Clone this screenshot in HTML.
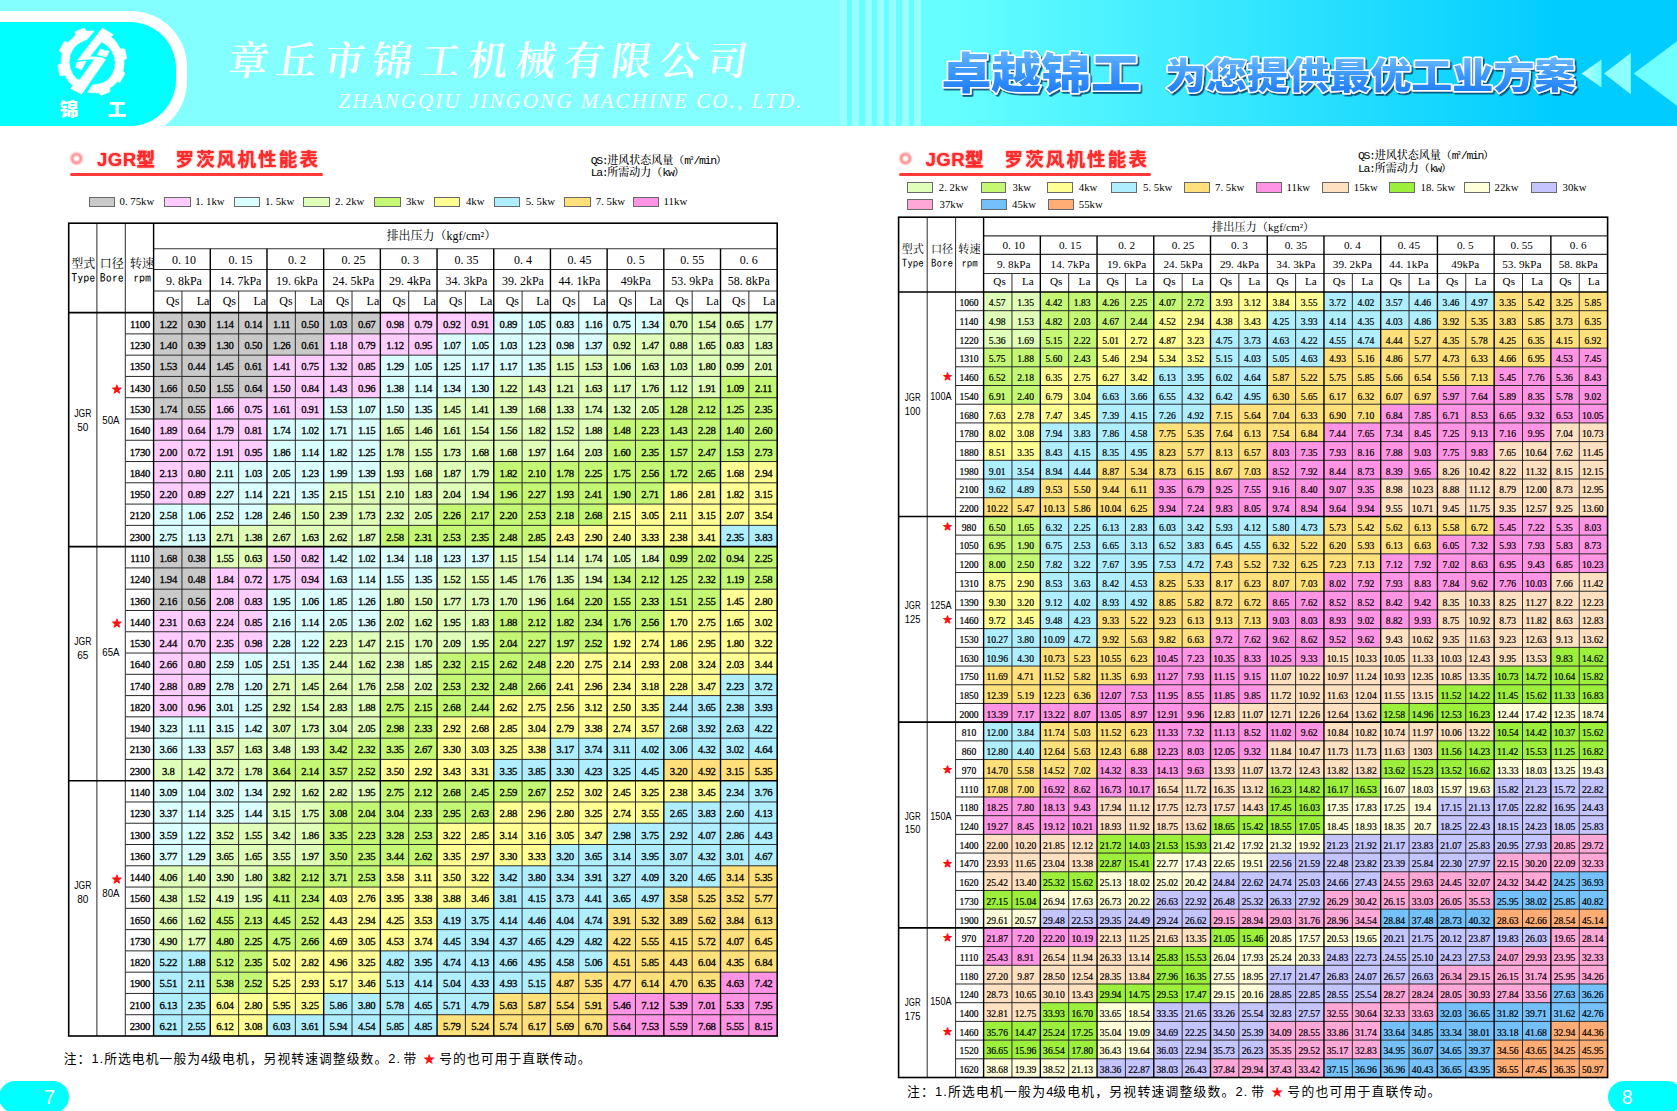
<!DOCTYPE html>
<html lang="zh-CN">
<head>
<meta charset="utf-8">
<title>JGR型 罗茨风机性能表</title>
<style>
html,body{margin:0;padding:0;background:#fff;}
body{width:1677px;height:1111px;position:relative;overflow:hidden;font-family:"Liberation Serif","Noto Serif CJK SC",serif;}
.abs{position:absolute;}
#hl{left:0;top:0;width:840px;height:125.5px;background:#84ffff;}
#hr{left:840px;top:0;width:837px;height:125.5px;background:linear-gradient(90deg,#66ffff 0%,#66ffff 13%,#00ccff 86%,#00ccff 100%);}
#stripes{left:840px;top:0;width:81px;height:125.5px;background:repeating-linear-gradient(90deg,rgba(255,255,255,.34) 0,rgba(255,255,255,.34) 6.9px,rgba(255,255,255,0) 6.9px,rgba(255,255,255,0) 12.35px);}
#bw{left:-80px;top:11px;width:267px;height:126px;background:#fff;border-radius:0 56px 56px 0;}
#hclip{left:0;top:0;width:1677px;height:125.5px;overflow:hidden;}
#bc{left:-80px;top:22px;width:256px;height:103.7px;background:#00ffff;border-radius:0 46px 46px 0;}
#jg{left:59.8px;top:95px;width:68px;font:900 18.5px/26px "Noto Sans CJK SC",sans-serif;color:#fff;white-space:nowrap;letter-spacing:0;}
#jg span{display:inline-block;width:18.5px}
#cn{left:229px;top:27.5px;font:600 40px/60px "Noto Serif CJK SC",serif;color:#fff;white-space:nowrap;letter-spacing:7.9px;transform:skewX(-8deg);transform-origin:0 50%;}
#en{left:338.6px;top:87.3px;font:italic 21px/28px "Liberation Serif",serif;color:#fff;white-space:nowrap;letter-spacing:2.1px;}
.ttl{font:700 18.5px/24px "Liberation Sans","Noto Sans CJK SC",sans-serif;color:#ff2a2a;white-space:nowrap;text-shadow:0 0 2px rgba(255,60,60,.75),0 0 1px rgba(255,60,60,.6);filter:blur(.3px);}
.ttl b{letter-spacing:.5px}
.ttl i{font-style:normal;letter-spacing:2.15px}
.ring{width:7px;height:7px;border:2.6px solid #ff5050;border-radius:50%;filter:blur(.9px);}
.ul{height:3px;background:#ff3838;filter:blur(.7px);border-radius:1.5px;}
.cap{font:500 11px/12.2px "Liberation Mono","Noto Serif CJK SC",serif;color:#000;white-space:nowrap;}
.cap i{font-style:normal;font-size:11.5px;letter-spacing:-1.35px}
.cap sup{font-size:6px;line-height:0;vertical-align:4px;}
.lb{position:absolute;border:1px solid #6a6a6a;box-sizing:border-box;}
.lt{position:absolute;font:10.8px/13px "Liberation Serif","Noto Serif CJK SC",serif;color:#000;white-space:nowrap;}
.note{font:12.8px/18px "Liberation Sans","Noto Sans CJK SC",sans-serif;color:#000;white-space:nowrap;letter-spacing:1.05px;}
.note b{font-weight:400;letter-spacing:0}
.note .s{color:#ff1010;font-family:"DejaVu Sans",sans-serif;font-size:11px;letter-spacing:0;-webkit-text-stroke:1px #ff1010;margin:0 .6px 0 2.2px}
.note u{text-decoration:none;margin-left:2.5px}
.pill{background:#00ffff;height:32px;border-radius:16px;}
.pn{font:19.5px/20px "Liberation Sans",sans-serif;color:#fff;}
svg text{white-space:pre}
.dl{font:10.7px "Liberation Serif",serif;text-anchor:middle;fill:#000;stroke:#000;stroke-width:.3px;letter-spacing:-.3px}
.dr{font:9.6px "Liberation Serif",serif;text-anchor:middle;fill:#000;stroke:#000;stroke-width:.2px}
.hs{font:12px "Liberation Serif","Noto Serif CJK SC",serif;text-anchor:middle;fill:#000}
.hq{font:11.2px "Liberation Serif","Noto Serif CJK SC",serif;text-anchor:middle;fill:#000}
.hf{font:11px "IPAGothic","DejaVu Sans Mono",monospace;text-anchor:middle;fill:#000}
.he{font:12px "IPAGothic","DejaVu Sans Mono",monospace;text-anchor:middle;fill:#000}
.ml{font:10.6px "Liberation Sans",sans-serif;text-anchor:middle;fill:#000}
.mr{font:10px "Liberation Sans",sans-serif;text-anchor:middle;fill:#000}
.sr{font:10.2px "DejaVu Sans",sans-serif;text-anchor:middle;fill:#ff1010;stroke:#ff1010;stroke-width:1px;stroke-linejoin:round}
.st{font:11px "DejaVu Sans",sans-serif;text-anchor:middle;fill:#ff1010;stroke:#ff1010;stroke-width:1.1px;stroke-linejoin:round}
</style>
</head>
<body>
<div class="abs" id="hl"></div>
<div class="abs" id="hr"></div>
<div class="abs" id="stripes"></div>
<div class="abs" id="hclip">
<div class="abs" id="bw"></div>
<div class="abs" id="bc"></div>
</div>
<svg class="abs" style="left:52px;top:22px" width="80" height="80" viewBox="0 0 1111 1111">
<g fill="#fff" stroke="#fff" stroke-width="7" stroke-linejoin="round">
<polygon points="700,85 850,175 690,275 525,483 620,485 700,495 745,520 410,1005 260,925 385,805 590,515 470,520 355,530"/>
<polygon points="585,125 475,125 450,85 320,135 325,190 270,235 225,285 170,270 100,400 140,435 128,520 125,580 80,600 110,745 180,740 225,820 290,885 260,925 385,805 340,790 290,730 255,650 238,560 250,460 290,380 340,320 400,280 490,240"/>
<polygon points="850,175 815,200 880,260 950,370 1010,375 1040,505 1000,525 1000,600 985,680 1015,715 940,845 910,825 860,875 805,915 805,970 685,1020 650,985 495,980 560,875 640,865 720,840 790,790 840,720 870,640 878,560 865,480 830,400 770,330 690,275"/>
<polygon points="675,378 795,405 755,487 625,455"/>
<polygon points="345,560 475,543 410,665 330,628"/>
</g>
</svg>
<div class="abs" id="jg"><span>锦</span><span style="margin-left:29.5px">工</span></div>
<div class="abs" id="cn">章丘市锦工机械有限公司</div>
<div class="abs" id="en">ZHANGQIU JINGONG MACHINE CO., LTD.</div>

<svg class="abs" style="left:900px;top:30px" width="777" height="90" viewBox="900 30 777 90">
<defs>
<linearGradient id="sg" x1="0" y1="0" x2="0" y2="1"><stop offset="0" stop-color="#8ad0ff"/><stop offset=".45" stop-color="#449eff"/><stop offset="1" stop-color="#1070f2"/></linearGradient>
<linearGradient id="tg" x1="0" y1="0" x2="1" y2="0"><stop offset="0" stop-color="#c4ffff"/><stop offset="1" stop-color="#74ffff"/></linearGradient>
<filter id="sh" x="-5%" y="-20%" width="110%" height="140%"><feDropShadow dx="1.6" dy="1.8" stdDeviation=".5" flood-color="#063a66" flood-opacity=".85"/></filter>
</defs>
<polygon points="1581.7,73.5 1601.5,59.5 1601.5,87.5" fill="url(#tg)"/>
<polygon points="1604,73.5 1630.8,52.9 1630.8,94.2" fill="#8cffff"/>
<polygon points="1633.7,73.5 1677,41.3 1677,105.7" fill="#70ffff"/>
<g filter="url(#sh)" font-family="'Noto Sans CJK SC',sans-serif" font-weight="900" fill="url(#sg)" stroke="#fff" stroke-width="3" paint-order="stroke fill" stroke-linejoin="round">
<text x="941.5" y="88.8" font-size="43.6" textLength="199" lengthAdjust="spacingAndGlyphs">卓越锦工</text>
<text x="1165" y="89.4" font-size="36.5" textLength="410.5" lengthAdjust="spacingAndGlyphs">为您提供最优工业方案</text>
</g>
</svg>

<div class="abs ring" style="left:70.9px;top:153px"></div>
<div class="abs ttl" style="left:97px;top:148.3px"><b>JGR型</b></div>
<div class="abs ttl" style="left:175.5px;top:148.3px"><i>罗茨风机性能表</i></div>
<div class="abs ul" style="left:70px;top:172.7px;width:253px"></div>
<div class="abs ring" style="left:899.9px;top:153px"></div>
<div class="abs ttl" style="left:925.5px;top:148.3px"><b>JGR型</b></div>
<div class="abs ttl" style="left:1004.5px;top:148.3px"><i>罗茨风机性能表</i></div>
<div class="abs ul" style="left:899px;top:172.7px;width:252px"></div>

<div class="abs cap" style="left:590.7px;top:154.6px"><i>QS:</i>进风状态风量（<i>m</i><sup>3</sup><i>/min</i>）<br><i>La:</i>所需动力（<i>kw</i>）</div>
<div class="abs cap" style="left:1358px;top:150.3px"><i>QS:</i>进风状态风量（<i>m</i><sup>3</sup><i>/min</i>）<br><i>La:</i>所需动力（<i>kw</i>）</div>

<div class="lb" style="left:89.1px;top:196.6px;width:26.4px;height:10.7px;background:#c9c9c9"></div>
<div class="lt" style="left:119.5px;top:195.1px">0. 75kw</div>
<div class="lb" style="left:164.1px;top:196.6px;width:26.6px;height:10.7px;background:#ffccff"></div>
<div class="lt" style="left:195.2px;top:195.1px">1. 1kw</div>
<div class="lb" style="left:233.5px;top:196.6px;width:26.4px;height:10.7px;background:#d9ffff"></div>
<div class="lt" style="left:264.9px;top:195.1px">1. 5kw</div>
<div class="lb" style="left:303px;top:196.6px;width:26.6px;height:10.7px;background:#e0ffb8"></div>
<div class="lt" style="left:335px;top:195.1px">2. 2kw</div>
<div class="lb" style="left:374px;top:196.6px;width:26.6px;height:10.7px;background:#c4f774"></div>
<div class="lt" style="left:405.9px;top:195.1px">3kw</div>
<div class="lb" style="left:433.9px;top:196.6px;width:26.4px;height:10.7px;background:#ffff94"></div>
<div class="lt" style="left:465.9px;top:195.1px">4kw</div>
<div class="lb" style="left:493.9px;top:196.6px;width:26.2px;height:10.7px;background:#aeeeff"></div>
<div class="lt" style="left:525.7px;top:195.1px">5. 5kw</div>
<div class="lb" style="left:564.2px;top:196.6px;width:26.4px;height:10.7px;background:#ffe07a"></div>
<div class="lt" style="left:595.7px;top:195.1px">7. 5kw</div>
<div class="lb" style="left:632.8px;top:196.6px;width:26.3px;height:10.7px;background:#ff94e4"></div>
<div class="lt" style="left:663.6px;top:195.1px">11kw</div>
<div class="lb" style="left:906.8px;top:182.2px;width:25.8px;height:10.5px;background:#e0ffb8"></div>
<div class="lt" style="left:938.8px;top:180.7px">2. 2kw</div>
<div class="lb" style="left:980.5px;top:182.2px;width:25.8px;height:10.5px;background:#c4f774"></div>
<div class="lt" style="left:1012.5px;top:180.7px">3kw</div>
<div class="lb" style="left:1047px;top:182.2px;width:26px;height:10.5px;background:#ffff94"></div>
<div class="lt" style="left:1078.8px;top:180.7px">4kw</div>
<div class="lb" style="left:1111px;top:182.2px;width:26px;height:10.5px;background:#aeeeff"></div>
<div class="lt" style="left:1143px;top:180.7px">5. 5kw</div>
<div class="lb" style="left:1184px;top:182.2px;width:26px;height:10.5px;background:#ffe07a"></div>
<div class="lt" style="left:1215px;top:180.7px">7. 5kw</div>
<div class="lb" style="left:1255.5px;top:182.2px;width:26px;height:10.5px;background:#ff94e4"></div>
<div class="lt" style="left:1286.5px;top:180.7px">11kw</div>
<div class="lb" style="left:1322px;top:182.2px;width:26.5px;height:10.5px;background:#ffe1c2"></div>
<div class="lt" style="left:1353.8px;top:180.7px">15kw</div>
<div class="lb" style="left:1389.3px;top:182.2px;width:26.2px;height:10.5px;background:#9cf03c"></div>
<div class="lt" style="left:1420.5px;top:180.7px">18. 5kw</div>
<div class="lb" style="left:1463.8px;top:182.2px;width:26.2px;height:10.5px;background:#ffffd9"></div>
<div class="lt" style="left:1494.5px;top:180.7px">22kw</div>
<div class="lb" style="left:1530.8px;top:182.2px;width:26.2px;height:10.5px;background:#c4c4ff"></div>
<div class="lt" style="left:1562.5px;top:180.7px">30kw</div>
<div class="lb" style="left:907px;top:199.2px;width:26px;height:10.5px;background:#ffa8d8"></div>
<div class="lt" style="left:939.5px;top:197.7px">37kw</div>
<div class="lb" style="left:980.5px;top:199.2px;width:26px;height:10.5px;background:#73c0fa"></div>
<div class="lt" style="left:1012px;top:197.7px">45kw</div>
<div class="lb" style="left:1047.5px;top:199.2px;width:26px;height:10.5px;background:#ffad75"></div>
<div class="lt" style="left:1078.8px;top:197.7px">55kw</div>

<svg class="abs" style="left:0;top:0" width="1677" height="1111" viewBox="0 0 1677 1111">
<rect x="153.6" y="312.6" width="226.76" height="21.58" fill="#c9c9c9"/>
<rect x="380.36" y="312.6" width="113.38" height="21.58" fill="#ffccff"/>
<rect x="493.75" y="312.6" width="170.07" height="21.58" fill="#d9ffff"/>
<rect x="663.82" y="312.6" width="113.38" height="21.58" fill="#e0ffb8"/>
<rect x="153.6" y="333.88" width="170.07" height="21.58" fill="#c9c9c9"/>
<rect x="323.67" y="333.88" width="113.38" height="21.58" fill="#ffccff"/>
<rect x="437.05" y="333.88" width="170.07" height="21.58" fill="#d9ffff"/>
<rect x="607.13" y="333.88" width="170.07" height="21.58" fill="#e0ffb8"/>
<rect x="153.6" y="355.15" width="113.38" height="21.58" fill="#c9c9c9"/>
<rect x="266.98" y="355.15" width="113.38" height="21.58" fill="#ffccff"/>
<rect x="380.36" y="355.15" width="170.07" height="21.58" fill="#d9ffff"/>
<rect x="550.44" y="355.15" width="226.76" height="21.58" fill="#e0ffb8"/>
<rect x="153.6" y="376.43" width="113.38" height="21.58" fill="#c9c9c9"/>
<rect x="266.98" y="376.43" width="113.38" height="21.58" fill="#ffccff"/>
<rect x="380.36" y="376.43" width="113.38" height="21.58" fill="#d9ffff"/>
<rect x="493.75" y="376.43" width="226.76" height="21.58" fill="#e0ffb8"/>
<rect x="720.51" y="376.43" width="56.69" height="21.58" fill="#c4f774"/>
<rect x="153.6" y="397.71" width="56.69" height="21.58" fill="#c9c9c9"/>
<rect x="210.29" y="397.71" width="113.38" height="21.58" fill="#ffccff"/>
<rect x="323.67" y="397.71" width="113.38" height="21.58" fill="#d9ffff"/>
<rect x="437.05" y="397.71" width="226.76" height="21.58" fill="#e0ffb8"/>
<rect x="663.82" y="397.71" width="113.38" height="21.58" fill="#c4f774"/>
<rect x="153.6" y="418.98" width="113.38" height="21.58" fill="#ffccff"/>
<rect x="266.98" y="418.98" width="113.38" height="21.58" fill="#d9ffff"/>
<rect x="380.36" y="418.98" width="226.76" height="21.58" fill="#e0ffb8"/>
<rect x="607.13" y="418.98" width="170.07" height="21.58" fill="#c4f774"/>
<rect x="153.6" y="440.26" width="113.38" height="21.58" fill="#ffccff"/>
<rect x="266.98" y="440.26" width="113.38" height="21.58" fill="#d9ffff"/>
<rect x="380.36" y="440.26" width="226.76" height="21.58" fill="#e0ffb8"/>
<rect x="607.13" y="440.26" width="170.07" height="21.58" fill="#c4f774"/>
<rect x="153.6" y="461.54" width="56.69" height="21.58" fill="#ffccff"/>
<rect x="210.29" y="461.54" width="170.07" height="21.58" fill="#d9ffff"/>
<rect x="380.36" y="461.54" width="113.38" height="21.58" fill="#e0ffb8"/>
<rect x="493.75" y="461.54" width="226.76" height="21.58" fill="#c4f774"/>
<rect x="720.51" y="461.54" width="56.69" height="21.58" fill="#ffff94"/>
<rect x="153.6" y="482.81" width="56.69" height="21.58" fill="#ffccff"/>
<rect x="210.29" y="482.81" width="113.38" height="21.58" fill="#d9ffff"/>
<rect x="323.67" y="482.81" width="170.07" height="21.58" fill="#e0ffb8"/>
<rect x="493.75" y="482.81" width="170.07" height="21.58" fill="#c4f774"/>
<rect x="663.82" y="482.81" width="113.38" height="21.58" fill="#ffff94"/>
<rect x="153.6" y="504.09" width="113.38" height="21.58" fill="#d9ffff"/>
<rect x="266.98" y="504.09" width="170.07" height="21.58" fill="#e0ffb8"/>
<rect x="437.05" y="504.09" width="170.07" height="21.58" fill="#c4f774"/>
<rect x="607.13" y="504.09" width="170.07" height="21.58" fill="#ffff94"/>
<rect x="153.6" y="525.36" width="56.69" height="21.58" fill="#d9ffff"/>
<rect x="210.29" y="525.36" width="170.07" height="21.58" fill="#e0ffb8"/>
<rect x="380.36" y="525.36" width="170.07" height="21.58" fill="#c4f774"/>
<rect x="550.44" y="525.36" width="170.07" height="21.58" fill="#ffff94"/>
<rect x="720.51" y="525.36" width="56.69" height="21.58" fill="#aeeeff"/>
<rect x="153.6" y="546.64" width="56.69" height="21.58" fill="#c9c9c9"/>
<rect x="210.29" y="546.64" width="56.69" height="21.58" fill="#e0ffb8"/>
<rect x="266.98" y="546.64" width="56.69" height="21.58" fill="#ffccff"/>
<rect x="323.67" y="546.64" width="170.07" height="21.58" fill="#d9ffff"/>
<rect x="493.75" y="546.64" width="170.07" height="21.58" fill="#e0ffb8"/>
<rect x="663.82" y="546.64" width="113.38" height="21.58" fill="#c4f774"/>
<rect x="153.6" y="567.92" width="56.69" height="21.58" fill="#c9c9c9"/>
<rect x="210.29" y="567.92" width="113.38" height="21.58" fill="#ffccff"/>
<rect x="323.67" y="567.92" width="113.38" height="21.58" fill="#d9ffff"/>
<rect x="437.05" y="567.92" width="170.07" height="21.58" fill="#e0ffb8"/>
<rect x="607.13" y="567.92" width="170.07" height="21.58" fill="#c4f774"/>
<rect x="153.6" y="589.19" width="56.69" height="21.58" fill="#c9c9c9"/>
<rect x="210.29" y="589.19" width="56.69" height="21.58" fill="#ffccff"/>
<rect x="266.98" y="589.19" width="113.38" height="21.58" fill="#d9ffff"/>
<rect x="380.36" y="589.19" width="170.07" height="21.58" fill="#e0ffb8"/>
<rect x="550.44" y="589.19" width="170.07" height="21.58" fill="#c4f774"/>
<rect x="720.51" y="589.19" width="56.69" height="21.58" fill="#ffff94"/>
<rect x="153.6" y="610.47" width="113.38" height="21.58" fill="#ffccff"/>
<rect x="266.98" y="610.47" width="113.38" height="21.58" fill="#d9ffff"/>
<rect x="380.36" y="610.47" width="113.38" height="21.58" fill="#e0ffb8"/>
<rect x="493.75" y="610.47" width="170.07" height="21.58" fill="#c4f774"/>
<rect x="663.82" y="610.47" width="113.38" height="21.58" fill="#ffff94"/>
<rect x="153.6" y="631.75" width="113.38" height="21.58" fill="#ffccff"/>
<rect x="266.98" y="631.75" width="56.69" height="21.58" fill="#d9ffff"/>
<rect x="323.67" y="631.75" width="170.07" height="21.58" fill="#e0ffb8"/>
<rect x="493.75" y="631.75" width="113.38" height="21.58" fill="#c4f774"/>
<rect x="607.13" y="631.75" width="170.07" height="21.58" fill="#ffff94"/>
<rect x="153.6" y="653.02" width="56.69" height="21.58" fill="#ffccff"/>
<rect x="210.29" y="653.02" width="113.38" height="21.58" fill="#d9ffff"/>
<rect x="323.67" y="653.02" width="113.38" height="21.58" fill="#e0ffb8"/>
<rect x="437.05" y="653.02" width="113.38" height="21.58" fill="#c4f774"/>
<rect x="550.44" y="653.02" width="226.76" height="21.58" fill="#ffff94"/>
<rect x="153.6" y="674.3" width="56.69" height="21.58" fill="#ffccff"/>
<rect x="210.29" y="674.3" width="56.69" height="21.58" fill="#d9ffff"/>
<rect x="266.98" y="674.3" width="170.07" height="21.58" fill="#e0ffb8"/>
<rect x="437.05" y="674.3" width="113.38" height="21.58" fill="#c4f774"/>
<rect x="550.44" y="674.3" width="170.07" height="21.58" fill="#ffff94"/>
<rect x="720.51" y="674.3" width="56.69" height="21.58" fill="#aeeeff"/>
<rect x="153.6" y="695.58" width="56.69" height="21.58" fill="#ffccff"/>
<rect x="210.29" y="695.58" width="56.69" height="21.58" fill="#d9ffff"/>
<rect x="266.98" y="695.58" width="113.38" height="21.58" fill="#e0ffb8"/>
<rect x="380.36" y="695.58" width="113.38" height="21.58" fill="#c4f774"/>
<rect x="493.75" y="695.58" width="170.07" height="21.58" fill="#ffff94"/>
<rect x="663.82" y="695.58" width="113.38" height="21.58" fill="#aeeeff"/>
<rect x="153.6" y="716.85" width="113.38" height="21.58" fill="#d9ffff"/>
<rect x="266.98" y="716.85" width="113.38" height="21.58" fill="#e0ffb8"/>
<rect x="380.36" y="716.85" width="56.69" height="21.58" fill="#c4f774"/>
<rect x="437.05" y="716.85" width="226.76" height="21.58" fill="#ffff94"/>
<rect x="663.82" y="716.85" width="113.38" height="21.58" fill="#aeeeff"/>
<rect x="153.6" y="738.13" width="56.69" height="21.58" fill="#d9ffff"/>
<rect x="210.29" y="738.13" width="113.38" height="21.58" fill="#e0ffb8"/>
<rect x="323.67" y="738.13" width="113.38" height="21.58" fill="#c4f774"/>
<rect x="437.05" y="738.13" width="113.38" height="21.58" fill="#ffff94"/>
<rect x="550.44" y="738.13" width="226.76" height="21.58" fill="#aeeeff"/>
<rect x="153.6" y="759.41" width="113.38" height="21.58" fill="#e0ffb8"/>
<rect x="266.98" y="759.41" width="113.38" height="21.58" fill="#c4f774"/>
<rect x="380.36" y="759.41" width="113.38" height="21.58" fill="#ffff94"/>
<rect x="493.75" y="759.41" width="170.07" height="21.58" fill="#aeeeff"/>
<rect x="663.82" y="759.41" width="113.38" height="21.58" fill="#ffe07a"/>
<rect x="153.6" y="780.68" width="113.38" height="21.58" fill="#d9ffff"/>
<rect x="266.98" y="780.68" width="113.38" height="21.58" fill="#e0ffb8"/>
<rect x="380.36" y="780.68" width="170.07" height="21.58" fill="#c4f774"/>
<rect x="550.44" y="780.68" width="170.07" height="21.58" fill="#ffff94"/>
<rect x="720.51" y="780.68" width="56.69" height="21.58" fill="#aeeeff"/>
<rect x="153.6" y="801.96" width="113.38" height="21.58" fill="#d9ffff"/>
<rect x="266.98" y="801.96" width="56.69" height="21.58" fill="#e0ffb8"/>
<rect x="323.67" y="801.96" width="170.07" height="21.58" fill="#c4f774"/>
<rect x="493.75" y="801.96" width="170.07" height="21.58" fill="#ffff94"/>
<rect x="663.82" y="801.96" width="113.38" height="21.58" fill="#aeeeff"/>
<rect x="153.6" y="823.24" width="56.69" height="21.58" fill="#d9ffff"/>
<rect x="210.29" y="823.24" width="113.38" height="21.58" fill="#e0ffb8"/>
<rect x="323.67" y="823.24" width="113.38" height="21.58" fill="#c4f774"/>
<rect x="437.05" y="823.24" width="170.07" height="21.58" fill="#ffff94"/>
<rect x="607.13" y="823.24" width="170.07" height="21.58" fill="#aeeeff"/>
<rect x="153.6" y="844.51" width="56.69" height="21.58" fill="#d9ffff"/>
<rect x="210.29" y="844.51" width="113.38" height="21.58" fill="#e0ffb8"/>
<rect x="323.67" y="844.51" width="113.38" height="21.58" fill="#c4f774"/>
<rect x="437.05" y="844.51" width="113.38" height="21.58" fill="#ffff94"/>
<rect x="550.44" y="844.51" width="226.76" height="21.58" fill="#aeeeff"/>
<rect x="153.6" y="865.79" width="113.38" height="21.58" fill="#e0ffb8"/>
<rect x="266.98" y="865.79" width="113.38" height="21.58" fill="#c4f774"/>
<rect x="380.36" y="865.79" width="113.38" height="21.58" fill="#ffff94"/>
<rect x="493.75" y="865.79" width="226.76" height="21.58" fill="#aeeeff"/>
<rect x="720.51" y="865.79" width="56.69" height="21.58" fill="#ffe07a"/>
<rect x="153.6" y="887.06" width="113.38" height="21.58" fill="#e0ffb8"/>
<rect x="266.98" y="887.06" width="56.69" height="21.58" fill="#c4f774"/>
<rect x="323.67" y="887.06" width="170.07" height="21.58" fill="#ffff94"/>
<rect x="493.75" y="887.06" width="170.07" height="21.58" fill="#aeeeff"/>
<rect x="663.82" y="887.06" width="113.38" height="21.58" fill="#ffe07a"/>
<rect x="153.6" y="908.34" width="56.69" height="21.58" fill="#e0ffb8"/>
<rect x="210.29" y="908.34" width="113.38" height="21.58" fill="#c4f774"/>
<rect x="323.67" y="908.34" width="113.38" height="21.58" fill="#ffff94"/>
<rect x="437.05" y="908.34" width="170.07" height="21.58" fill="#aeeeff"/>
<rect x="607.13" y="908.34" width="170.07" height="21.58" fill="#ffe07a"/>
<rect x="153.6" y="929.62" width="56.69" height="21.58" fill="#e0ffb8"/>
<rect x="210.29" y="929.62" width="113.38" height="21.58" fill="#c4f774"/>
<rect x="323.67" y="929.62" width="113.38" height="21.58" fill="#ffff94"/>
<rect x="437.05" y="929.62" width="170.07" height="21.58" fill="#aeeeff"/>
<rect x="607.13" y="929.62" width="170.07" height="21.58" fill="#ffe07a"/>
<rect x="153.6" y="950.89" width="56.69" height="21.58" fill="#aeeeff"/>
<rect x="210.29" y="950.89" width="56.69" height="21.58" fill="#c4f774"/>
<rect x="266.98" y="950.89" width="113.38" height="21.58" fill="#ffff94"/>
<rect x="380.36" y="950.89" width="226.76" height="21.58" fill="#aeeeff"/>
<rect x="607.13" y="950.89" width="170.07" height="21.58" fill="#ffe07a"/>
<rect x="153.6" y="972.17" width="56.69" height="21.58" fill="#aeeeff"/>
<rect x="210.29" y="972.17" width="56.69" height="21.58" fill="#c4f774"/>
<rect x="266.98" y="972.17" width="113.38" height="21.58" fill="#ffff94"/>
<rect x="380.36" y="972.17" width="170.07" height="21.58" fill="#aeeeff"/>
<rect x="550.44" y="972.17" width="170.07" height="21.58" fill="#ffe07a"/>
<rect x="720.51" y="972.17" width="56.69" height="21.58" fill="#ff94e4"/>
<rect x="153.6" y="993.45" width="56.69" height="21.58" fill="#aeeeff"/>
<rect x="210.29" y="993.45" width="113.38" height="21.58" fill="#ffff94"/>
<rect x="323.67" y="993.45" width="170.07" height="21.58" fill="#aeeeff"/>
<rect x="493.75" y="993.45" width="113.38" height="21.58" fill="#ffe07a"/>
<rect x="607.13" y="993.45" width="170.07" height="21.58" fill="#ff94e4"/>
<rect x="153.6" y="1014.72" width="56.69" height="21.58" fill="#aeeeff"/>
<rect x="210.29" y="1014.72" width="56.69" height="21.58" fill="#ffff94"/>
<rect x="266.98" y="1014.72" width="170.07" height="21.58" fill="#aeeeff"/>
<rect x="437.05" y="1014.72" width="170.07" height="21.58" fill="#ffe07a"/>
<rect x="607.13" y="1014.72" width="170.07" height="21.58" fill="#ff94e4"/>
<path d="M125.3 333.88H777.2M125.3 355.15H777.2M125.3 376.43H777.2M125.3 397.71H777.2M125.3 418.98H777.2M125.3 440.26H777.2M125.3 461.54H777.2M125.3 482.81H777.2M125.3 504.09H777.2M125.3 525.36H777.2M125.3 567.92H777.2M125.3 589.19H777.2M125.3 610.47H777.2M125.3 631.75H777.2M125.3 653.02H777.2M125.3 674.3H777.2M125.3 695.58H777.2M125.3 716.85H777.2M125.3 738.13H777.2M125.3 759.41H777.2M125.3 801.96H777.2M125.3 823.24H777.2M125.3 844.51H777.2M125.3 865.79H777.2M125.3 887.06H777.2M125.3 908.34H777.2M125.3 929.62H777.2M125.3 950.89H777.2M125.3 972.17H777.2M125.3 993.45H777.2M125.3 1014.72H777.2M181.95 291V1036M238.64 291V1036M295.33 291V1036M352.02 291V1036M408.71 291V1036M465.4 291V1036M522.09 291V1036M578.78 291V1036M635.47 291V1036M692.16 291V1036M748.85 291V1036M96.9 223.2V1036M125.3 223.2V1036" stroke="#2a2a2a" stroke-width="1" fill="none"/>
<path d="M153.6 248.8H777.2M153.6 269.5H777.2M153.6 291H777.2" stroke="#333" stroke-width="1.1" fill="none"/>
<path d="M210.29 248.8V1036M266.98 248.8V1036M323.67 248.8V1036M380.36 248.8V1036M437.05 248.8V1036M493.75 248.8V1036M550.44 248.8V1036M607.13 248.8V1036M663.82 248.8V1036M720.51 248.8V1036M153.6 223.2V1036" stroke="#000" stroke-width="1.4" fill="none"/>
<path d="M68.7 546.64H777.2M68.7 780.68H777.2M68.7 312.6H777.2" stroke="#000" stroke-width="1.6" fill="none"/>
<rect x="68.7" y="223.2" width="708.5" height="812.8" stroke="#000" stroke-width="1.6" fill="none"/>
<text class="hs" x="441.4" y="240">排出压力（kgf/cm²）</text>
<text class="hs" x="183.95" y="264.35">0. 10</text>
<text class="hs" x="183.95" y="285.45">9. 8kPa</text>
<text class="hs" x="172.77" y="305.4">Qs</text>
<text class="hs" x="203.12" y="305.4">La</text>
<text class="hs" x="240.44" y="264.35">0. 15</text>
<text class="hs" x="240.44" y="285.45">14. 7kPa</text>
<text class="hs" x="229.36" y="305.4">Qs</text>
<text class="hs" x="259.71" y="305.4">La</text>
<text class="hs" x="296.93" y="264.35">0. 2</text>
<text class="hs" x="296.93" y="285.45">19. 6kPa</text>
<text class="hs" x="285.95" y="305.4">Qs</text>
<text class="hs" x="316.3" y="305.4">La</text>
<text class="hs" x="353.42" y="264.35">0. 25</text>
<text class="hs" x="353.42" y="285.45">24. 5kPa</text>
<text class="hs" x="342.55" y="305.4">Qs</text>
<text class="hs" x="372.89" y="305.4">La</text>
<text class="hs" x="409.91" y="264.35">0. 3</text>
<text class="hs" x="409.91" y="285.45">29. 4kPa</text>
<text class="hs" x="399.14" y="305.4">Qs</text>
<text class="hs" x="429.48" y="305.4">La</text>
<text class="hs" x="466.4" y="264.35">0. 35</text>
<text class="hs" x="466.4" y="285.45">34. 3kPa</text>
<text class="hs" x="455.73" y="305.4">Qs</text>
<text class="hs" x="486.07" y="305.4">La</text>
<text class="hs" x="522.89" y="264.35">0. 4</text>
<text class="hs" x="522.89" y="285.45">39. 2kPa</text>
<text class="hs" x="512.32" y="305.4">Qs</text>
<text class="hs" x="542.66" y="305.4">La</text>
<text class="hs" x="579.38" y="264.35">0. 45</text>
<text class="hs" x="579.38" y="285.45">44. 1kPa</text>
<text class="hs" x="568.91" y="305.4">Qs</text>
<text class="hs" x="599.25" y="305.4">La</text>
<text class="hs" x="635.87" y="264.35">0. 5</text>
<text class="hs" x="635.87" y="285.45">49kPa</text>
<text class="hs" x="625.5" y="305.4">Qs</text>
<text class="hs" x="655.85" y="305.4">La</text>
<text class="hs" x="692.36" y="264.35">0. 55</text>
<text class="hs" x="692.36" y="285.45">53. 9kPa</text>
<text class="hs" x="682.09" y="305.4">Qs</text>
<text class="hs" x="712.44" y="305.4">La</text>
<text class="hs" x="748.85" y="264.35">0. 6</text>
<text class="hs" x="748.85" y="285.45">58. 8kPa</text>
<text class="hs" x="738.68" y="305.4">Qs</text>
<text class="hs" x="769.03" y="305.4">La</text>
<text class="hs" x="83.3" y="267.8">型式</text>
<text class="he" x="83.3" y="282.4">Type</text>
<text class="hs" x="111.7" y="267.8">口径</text>
<text class="he" x="111.7" y="282.4">Bore</text>
<text class="hs" x="142" y="267.8">转速</text>
<text class="he" x="142" y="282.4">rpm</text>
<text class="ml" x="82.8" y="416.74" textLength="17.2" lengthAdjust="spacingAndGlyphs">JGR</text>
<text class="ml" x="82.8" y="430.84" textLength="11.2" lengthAdjust="spacingAndGlyphs">50</text>
<text class="ml" x="110.9" y="423.69" textLength="17.2" lengthAdjust="spacingAndGlyphs">50A</text>
<text class="dl" x="139.9" y="327.92">1100</text>
<text class="dl" x="168.22" y="327.92">1.22</text>
<text class="dl" x="196.57" y="327.92">0.30</text>
<text class="dl" x="224.91" y="327.92">1.14</text>
<text class="dl" x="253.26" y="327.92">0.14</text>
<text class="dl" x="281.6" y="327.92">1.11</text>
<text class="dl" x="309.95" y="327.92">0.50</text>
<text class="dl" x="338.3" y="327.92">1.03</text>
<text class="dl" x="366.64" y="327.92">0.67</text>
<text class="dl" x="394.99" y="327.92">0.98</text>
<text class="dl" x="423.33" y="327.92">0.79</text>
<text class="dl" x="451.68" y="327.92">0.92</text>
<text class="dl" x="480.02" y="327.92">0.91</text>
<text class="dl" x="508.37" y="327.92">0.89</text>
<text class="dl" x="536.71" y="327.92">1.05</text>
<text class="dl" x="565.06" y="327.92">0.83</text>
<text class="dl" x="593.4" y="327.92">1.16</text>
<text class="dl" x="621.75" y="327.92">0.75</text>
<text class="dl" x="650.1" y="327.92">1.34</text>
<text class="dl" x="678.44" y="327.92">0.70</text>
<text class="dl" x="706.79" y="327.92">1.54</text>
<text class="dl" x="735.13" y="327.92">0.65</text>
<text class="dl" x="763.48" y="327.92">1.77</text>
<text class="dl" x="139.9" y="349.2">1230</text>
<text class="dl" x="168.22" y="349.2">1.40</text>
<text class="dl" x="196.57" y="349.2">0.39</text>
<text class="dl" x="224.91" y="349.2">1.30</text>
<text class="dl" x="253.26" y="349.2">0.50</text>
<text class="dl" x="281.6" y="349.2">1.26</text>
<text class="dl" x="309.95" y="349.2">0.61</text>
<text class="dl" x="338.3" y="349.2">1.18</text>
<text class="dl" x="366.64" y="349.2">0.79</text>
<text class="dl" x="394.99" y="349.2">1.12</text>
<text class="dl" x="423.33" y="349.2">0.95</text>
<text class="dl" x="451.68" y="349.2">1.07</text>
<text class="dl" x="480.02" y="349.2">1.05</text>
<text class="dl" x="508.37" y="349.2">1.03</text>
<text class="dl" x="536.71" y="349.2">1.23</text>
<text class="dl" x="565.06" y="349.2">0.98</text>
<text class="dl" x="593.4" y="349.2">1.37</text>
<text class="dl" x="621.75" y="349.2">0.92</text>
<text class="dl" x="650.1" y="349.2">1.47</text>
<text class="dl" x="678.44" y="349.2">0.88</text>
<text class="dl" x="706.79" y="349.2">1.65</text>
<text class="dl" x="735.13" y="349.2">0.83</text>
<text class="dl" x="763.48" y="349.2">1.83</text>
<text class="dl" x="139.9" y="370.48">1350</text>
<text class="dl" x="168.22" y="370.48">1.53</text>
<text class="dl" x="196.57" y="370.48">0.44</text>
<text class="dl" x="224.91" y="370.48">1.45</text>
<text class="dl" x="253.26" y="370.48">0.61</text>
<text class="dl" x="281.6" y="370.48">1.41</text>
<text class="dl" x="309.95" y="370.48">0.75</text>
<text class="dl" x="338.3" y="370.48">1.32</text>
<text class="dl" x="366.64" y="370.48">0.85</text>
<text class="dl" x="394.99" y="370.48">1.29</text>
<text class="dl" x="423.33" y="370.48">1.05</text>
<text class="dl" x="451.68" y="370.48">1.25</text>
<text class="dl" x="480.02" y="370.48">1.17</text>
<text class="dl" x="508.37" y="370.48">1.17</text>
<text class="dl" x="536.71" y="370.48">1.35</text>
<text class="dl" x="565.06" y="370.48">1.15</text>
<text class="dl" x="593.4" y="370.48">1.53</text>
<text class="dl" x="621.75" y="370.48">1.06</text>
<text class="dl" x="650.1" y="370.48">1.63</text>
<text class="dl" x="678.44" y="370.48">1.03</text>
<text class="dl" x="706.79" y="370.48">1.80</text>
<text class="dl" x="735.13" y="370.48">0.99</text>
<text class="dl" x="763.48" y="370.48">2.01</text>
<text class="dl" x="139.9" y="391.75">1430</text>
<text class="st" x="116.9" y="393.27">★</text>
<text class="dl" x="168.22" y="391.75">1.66</text>
<text class="dl" x="196.57" y="391.75">0.50</text>
<text class="dl" x="224.91" y="391.75">1.55</text>
<text class="dl" x="253.26" y="391.75">0.64</text>
<text class="dl" x="281.6" y="391.75">1.50</text>
<text class="dl" x="309.95" y="391.75">0.84</text>
<text class="dl" x="338.3" y="391.75">1.43</text>
<text class="dl" x="366.64" y="391.75">0.96</text>
<text class="dl" x="394.99" y="391.75">1.38</text>
<text class="dl" x="423.33" y="391.75">1.14</text>
<text class="dl" x="451.68" y="391.75">1.34</text>
<text class="dl" x="480.02" y="391.75">1.30</text>
<text class="dl" x="508.37" y="391.75">1.22</text>
<text class="dl" x="536.71" y="391.75">1.43</text>
<text class="dl" x="565.06" y="391.75">1.21</text>
<text class="dl" x="593.4" y="391.75">1.63</text>
<text class="dl" x="621.75" y="391.75">1.17</text>
<text class="dl" x="650.1" y="391.75">1.76</text>
<text class="dl" x="678.44" y="391.75">1.12</text>
<text class="dl" x="706.79" y="391.75">1.91</text>
<text class="dl" x="735.13" y="391.75">1.09</text>
<text class="dl" x="763.48" y="391.75">2.11</text>
<text class="dl" x="139.9" y="413.03">1530</text>
<text class="dl" x="168.22" y="413.03">1.74</text>
<text class="dl" x="196.57" y="413.03">0.55</text>
<text class="dl" x="224.91" y="413.03">1.66</text>
<text class="dl" x="253.26" y="413.03">0.75</text>
<text class="dl" x="281.6" y="413.03">1.61</text>
<text class="dl" x="309.95" y="413.03">0.91</text>
<text class="dl" x="338.3" y="413.03">1.53</text>
<text class="dl" x="366.64" y="413.03">1.07</text>
<text class="dl" x="394.99" y="413.03">1.50</text>
<text class="dl" x="423.33" y="413.03">1.35</text>
<text class="dl" x="451.68" y="413.03">1.45</text>
<text class="dl" x="480.02" y="413.03">1.41</text>
<text class="dl" x="508.37" y="413.03">1.39</text>
<text class="dl" x="536.71" y="413.03">1.68</text>
<text class="dl" x="565.06" y="413.03">1.33</text>
<text class="dl" x="593.4" y="413.03">1.74</text>
<text class="dl" x="621.75" y="413.03">1.32</text>
<text class="dl" x="650.1" y="413.03">2.05</text>
<text class="dl" x="678.44" y="413.03">1.28</text>
<text class="dl" x="706.79" y="413.03">2.12</text>
<text class="dl" x="735.13" y="413.03">1.25</text>
<text class="dl" x="763.48" y="413.03">2.35</text>
<text class="dl" x="139.9" y="434.31">1640</text>
<text class="dl" x="168.22" y="434.31">1.89</text>
<text class="dl" x="196.57" y="434.31">0.64</text>
<text class="dl" x="224.91" y="434.31">1.79</text>
<text class="dl" x="253.26" y="434.31">0.81</text>
<text class="dl" x="281.6" y="434.31">1.74</text>
<text class="dl" x="309.95" y="434.31">1.02</text>
<text class="dl" x="338.3" y="434.31">1.71</text>
<text class="dl" x="366.64" y="434.31">1.15</text>
<text class="dl" x="394.99" y="434.31">1.65</text>
<text class="dl" x="423.33" y="434.31">1.46</text>
<text class="dl" x="451.68" y="434.31">1.61</text>
<text class="dl" x="480.02" y="434.31">1.54</text>
<text class="dl" x="508.37" y="434.31">1.56</text>
<text class="dl" x="536.71" y="434.31">1.82</text>
<text class="dl" x="565.06" y="434.31">1.52</text>
<text class="dl" x="593.4" y="434.31">1.88</text>
<text class="dl" x="621.75" y="434.31">1.48</text>
<text class="dl" x="650.1" y="434.31">2.23</text>
<text class="dl" x="678.44" y="434.31">1.43</text>
<text class="dl" x="706.79" y="434.31">2.28</text>
<text class="dl" x="735.13" y="434.31">1.40</text>
<text class="dl" x="763.48" y="434.31">2.60</text>
<text class="dl" x="139.9" y="455.58">1730</text>
<text class="dl" x="168.22" y="455.58">2.00</text>
<text class="dl" x="196.57" y="455.58">0.72</text>
<text class="dl" x="224.91" y="455.58">1.91</text>
<text class="dl" x="253.26" y="455.58">0.95</text>
<text class="dl" x="281.6" y="455.58">1.86</text>
<text class="dl" x="309.95" y="455.58">1.14</text>
<text class="dl" x="338.3" y="455.58">1.82</text>
<text class="dl" x="366.64" y="455.58">1.25</text>
<text class="dl" x="394.99" y="455.58">1.78</text>
<text class="dl" x="423.33" y="455.58">1.55</text>
<text class="dl" x="451.68" y="455.58">1.73</text>
<text class="dl" x="480.02" y="455.58">1.68</text>
<text class="dl" x="508.37" y="455.58">1.68</text>
<text class="dl" x="536.71" y="455.58">1.97</text>
<text class="dl" x="565.06" y="455.58">1.64</text>
<text class="dl" x="593.4" y="455.58">2.03</text>
<text class="dl" x="621.75" y="455.58">1.60</text>
<text class="dl" x="650.1" y="455.58">2.35</text>
<text class="dl" x="678.44" y="455.58">1.57</text>
<text class="dl" x="706.79" y="455.58">2.47</text>
<text class="dl" x="735.13" y="455.58">1.53</text>
<text class="dl" x="763.48" y="455.58">2.73</text>
<text class="dl" x="139.9" y="476.86">1840</text>
<text class="dl" x="168.22" y="476.86">2.13</text>
<text class="dl" x="196.57" y="476.86">0.80</text>
<text class="dl" x="224.91" y="476.86">2.11</text>
<text class="dl" x="253.26" y="476.86">1.03</text>
<text class="dl" x="281.6" y="476.86">2.05</text>
<text class="dl" x="309.95" y="476.86">1.23</text>
<text class="dl" x="338.3" y="476.86">1.99</text>
<text class="dl" x="366.64" y="476.86">1.39</text>
<text class="dl" x="394.99" y="476.86">1.93</text>
<text class="dl" x="423.33" y="476.86">1.68</text>
<text class="dl" x="451.68" y="476.86">1.87</text>
<text class="dl" x="480.02" y="476.86">1.79</text>
<text class="dl" x="508.37" y="476.86">1.82</text>
<text class="dl" x="536.71" y="476.86">2.10</text>
<text class="dl" x="565.06" y="476.86">1.78</text>
<text class="dl" x="593.4" y="476.86">2.25</text>
<text class="dl" x="621.75" y="476.86">1.75</text>
<text class="dl" x="650.1" y="476.86">2.56</text>
<text class="dl" x="678.44" y="476.86">1.72</text>
<text class="dl" x="706.79" y="476.86">2.65</text>
<text class="dl" x="735.13" y="476.86">1.68</text>
<text class="dl" x="763.48" y="476.86">2.94</text>
<text class="dl" x="139.9" y="498.13">1950</text>
<text class="dl" x="168.22" y="498.13">2.20</text>
<text class="dl" x="196.57" y="498.13">0.89</text>
<text class="dl" x="224.91" y="498.13">2.27</text>
<text class="dl" x="253.26" y="498.13">1.14</text>
<text class="dl" x="281.6" y="498.13">2.21</text>
<text class="dl" x="309.95" y="498.13">1.35</text>
<text class="dl" x="338.3" y="498.13">2.15</text>
<text class="dl" x="366.64" y="498.13">1.51</text>
<text class="dl" x="394.99" y="498.13">2.10</text>
<text class="dl" x="423.33" y="498.13">1.83</text>
<text class="dl" x="451.68" y="498.13">2.04</text>
<text class="dl" x="480.02" y="498.13">1.94</text>
<text class="dl" x="508.37" y="498.13">1.96</text>
<text class="dl" x="536.71" y="498.13">2.27</text>
<text class="dl" x="565.06" y="498.13">1.93</text>
<text class="dl" x="593.4" y="498.13">2.41</text>
<text class="dl" x="621.75" y="498.13">1.90</text>
<text class="dl" x="650.1" y="498.13">2.71</text>
<text class="dl" x="678.44" y="498.13">1.86</text>
<text class="dl" x="706.79" y="498.13">2.81</text>
<text class="dl" x="735.13" y="498.13">1.82</text>
<text class="dl" x="763.48" y="498.13">3.15</text>
<text class="dl" x="139.9" y="519.41">2120</text>
<text class="dl" x="168.22" y="519.41">2.58</text>
<text class="dl" x="196.57" y="519.41">1.06</text>
<text class="dl" x="224.91" y="519.41">2.52</text>
<text class="dl" x="253.26" y="519.41">1.28</text>
<text class="dl" x="281.6" y="519.41">2.46</text>
<text class="dl" x="309.95" y="519.41">1.50</text>
<text class="dl" x="338.3" y="519.41">2.39</text>
<text class="dl" x="366.64" y="519.41">1.73</text>
<text class="dl" x="394.99" y="519.41">2.32</text>
<text class="dl" x="423.33" y="519.41">2.05</text>
<text class="dl" x="451.68" y="519.41">2.26</text>
<text class="dl" x="480.02" y="519.41">2.17</text>
<text class="dl" x="508.37" y="519.41">2.20</text>
<text class="dl" x="536.71" y="519.41">2.53</text>
<text class="dl" x="565.06" y="519.41">2.18</text>
<text class="dl" x="593.4" y="519.41">2.68</text>
<text class="dl" x="621.75" y="519.41">2.15</text>
<text class="dl" x="650.1" y="519.41">3.05</text>
<text class="dl" x="678.44" y="519.41">2.11</text>
<text class="dl" x="706.79" y="519.41">3.15</text>
<text class="dl" x="735.13" y="519.41">2.07</text>
<text class="dl" x="763.48" y="519.41">3.54</text>
<text class="dl" x="139.9" y="540.69">2300</text>
<text class="dl" x="168.22" y="540.69">2.75</text>
<text class="dl" x="196.57" y="540.69">1.13</text>
<text class="dl" x="224.91" y="540.69">2.71</text>
<text class="dl" x="253.26" y="540.69">1.38</text>
<text class="dl" x="281.6" y="540.69">2.67</text>
<text class="dl" x="309.95" y="540.69">1.63</text>
<text class="dl" x="338.3" y="540.69">2.62</text>
<text class="dl" x="366.64" y="540.69">1.87</text>
<text class="dl" x="394.99" y="540.69">2.58</text>
<text class="dl" x="423.33" y="540.69">2.31</text>
<text class="dl" x="451.68" y="540.69">2.53</text>
<text class="dl" x="480.02" y="540.69">2.35</text>
<text class="dl" x="508.37" y="540.69">2.48</text>
<text class="dl" x="536.71" y="540.69">2.85</text>
<text class="dl" x="565.06" y="540.69">2.43</text>
<text class="dl" x="593.4" y="540.69">2.90</text>
<text class="dl" x="621.75" y="540.69">2.40</text>
<text class="dl" x="650.1" y="540.69">3.33</text>
<text class="dl" x="678.44" y="540.69">2.38</text>
<text class="dl" x="706.79" y="540.69">3.41</text>
<text class="dl" x="735.13" y="540.69">2.35</text>
<text class="dl" x="763.48" y="540.69">3.83</text>
<text class="ml" x="82.8" y="645.04" textLength="17.2" lengthAdjust="spacingAndGlyphs">JGR</text>
<text class="ml" x="82.8" y="659.14" textLength="11.2" lengthAdjust="spacingAndGlyphs">65</text>
<text class="ml" x="110.9" y="655.59" textLength="17.2" lengthAdjust="spacingAndGlyphs">65A</text>
<text class="dl" x="139.9" y="561.96">1110</text>
<text class="dl" x="168.22" y="561.96">1.68</text>
<text class="dl" x="196.57" y="561.96">0.38</text>
<text class="dl" x="224.91" y="561.96">1.55</text>
<text class="dl" x="253.26" y="561.96">0.63</text>
<text class="dl" x="281.6" y="561.96">1.50</text>
<text class="dl" x="309.95" y="561.96">0.82</text>
<text class="dl" x="338.3" y="561.96">1.42</text>
<text class="dl" x="366.64" y="561.96">1.02</text>
<text class="dl" x="394.99" y="561.96">1.34</text>
<text class="dl" x="423.33" y="561.96">1.18</text>
<text class="dl" x="451.68" y="561.96">1.23</text>
<text class="dl" x="480.02" y="561.96">1.37</text>
<text class="dl" x="508.37" y="561.96">1.15</text>
<text class="dl" x="536.71" y="561.96">1.54</text>
<text class="dl" x="565.06" y="561.96">1.14</text>
<text class="dl" x="593.4" y="561.96">1.74</text>
<text class="dl" x="621.75" y="561.96">1.05</text>
<text class="dl" x="650.1" y="561.96">1.84</text>
<text class="dl" x="678.44" y="561.96">0.99</text>
<text class="dl" x="706.79" y="561.96">2.02</text>
<text class="dl" x="735.13" y="561.96">0.94</text>
<text class="dl" x="763.48" y="561.96">2.25</text>
<text class="dl" x="139.9" y="583.24">1240</text>
<text class="dl" x="168.22" y="583.24">1.94</text>
<text class="dl" x="196.57" y="583.24">0.48</text>
<text class="dl" x="224.91" y="583.24">1.84</text>
<text class="dl" x="253.26" y="583.24">0.72</text>
<text class="dl" x="281.6" y="583.24">1.75</text>
<text class="dl" x="309.95" y="583.24">0.94</text>
<text class="dl" x="338.3" y="583.24">1.63</text>
<text class="dl" x="366.64" y="583.24">1.14</text>
<text class="dl" x="394.99" y="583.24">1.55</text>
<text class="dl" x="423.33" y="583.24">1.35</text>
<text class="dl" x="451.68" y="583.24">1.52</text>
<text class="dl" x="480.02" y="583.24">1.55</text>
<text class="dl" x="508.37" y="583.24">1.45</text>
<text class="dl" x="536.71" y="583.24">1.76</text>
<text class="dl" x="565.06" y="583.24">1.35</text>
<text class="dl" x="593.4" y="583.24">1.94</text>
<text class="dl" x="621.75" y="583.24">1.34</text>
<text class="dl" x="650.1" y="583.24">2.12</text>
<text class="dl" x="678.44" y="583.24">1.25</text>
<text class="dl" x="706.79" y="583.24">2.32</text>
<text class="dl" x="735.13" y="583.24">1.19</text>
<text class="dl" x="763.48" y="583.24">2.58</text>
<text class="dl" x="139.9" y="604.52">1360</text>
<text class="dl" x="168.22" y="604.52">2.16</text>
<text class="dl" x="196.57" y="604.52">0.56</text>
<text class="dl" x="224.91" y="604.52">2.08</text>
<text class="dl" x="253.26" y="604.52">0.83</text>
<text class="dl" x="281.6" y="604.52">1.95</text>
<text class="dl" x="309.95" y="604.52">1.06</text>
<text class="dl" x="338.3" y="604.52">1.85</text>
<text class="dl" x="366.64" y="604.52">1.26</text>
<text class="dl" x="394.99" y="604.52">1.80</text>
<text class="dl" x="423.33" y="604.52">1.50</text>
<text class="dl" x="451.68" y="604.52">1.77</text>
<text class="dl" x="480.02" y="604.52">1.73</text>
<text class="dl" x="508.37" y="604.52">1.70</text>
<text class="dl" x="536.71" y="604.52">1.96</text>
<text class="dl" x="565.06" y="604.52">1.64</text>
<text class="dl" x="593.4" y="604.52">2.20</text>
<text class="dl" x="621.75" y="604.52">1.55</text>
<text class="dl" x="650.1" y="604.52">2.33</text>
<text class="dl" x="678.44" y="604.52">1.51</text>
<text class="dl" x="706.79" y="604.52">2.55</text>
<text class="dl" x="735.13" y="604.52">1.45</text>
<text class="dl" x="763.48" y="604.52">2.80</text>
<text class="dl" x="139.9" y="625.79">1440</text>
<text class="st" x="116.9" y="627.31">★</text>
<text class="dl" x="168.22" y="625.79">2.31</text>
<text class="dl" x="196.57" y="625.79">0.63</text>
<text class="dl" x="224.91" y="625.79">2.24</text>
<text class="dl" x="253.26" y="625.79">0.85</text>
<text class="dl" x="281.6" y="625.79">2.16</text>
<text class="dl" x="309.95" y="625.79">1.14</text>
<text class="dl" x="338.3" y="625.79">2.05</text>
<text class="dl" x="366.64" y="625.79">1.36</text>
<text class="dl" x="394.99" y="625.79">2.02</text>
<text class="dl" x="423.33" y="625.79">1.62</text>
<text class="dl" x="451.68" y="625.79">1.95</text>
<text class="dl" x="480.02" y="625.79">1.83</text>
<text class="dl" x="508.37" y="625.79">1.88</text>
<text class="dl" x="536.71" y="625.79">2.12</text>
<text class="dl" x="565.06" y="625.79">1.82</text>
<text class="dl" x="593.4" y="625.79">2.34</text>
<text class="dl" x="621.75" y="625.79">1.76</text>
<text class="dl" x="650.1" y="625.79">2.56</text>
<text class="dl" x="678.44" y="625.79">1.70</text>
<text class="dl" x="706.79" y="625.79">2.75</text>
<text class="dl" x="735.13" y="625.79">1.65</text>
<text class="dl" x="763.48" y="625.79">3.02</text>
<text class="dl" x="139.9" y="647.07">1530</text>
<text class="dl" x="168.22" y="647.07">2.44</text>
<text class="dl" x="196.57" y="647.07">0.70</text>
<text class="dl" x="224.91" y="647.07">2.35</text>
<text class="dl" x="253.26" y="647.07">0.98</text>
<text class="dl" x="281.6" y="647.07">2.28</text>
<text class="dl" x="309.95" y="647.07">1.22</text>
<text class="dl" x="338.3" y="647.07">2.23</text>
<text class="dl" x="366.64" y="647.07">1.47</text>
<text class="dl" x="394.99" y="647.07">2.15</text>
<text class="dl" x="423.33" y="647.07">1.70</text>
<text class="dl" x="451.68" y="647.07">2.09</text>
<text class="dl" x="480.02" y="647.07">1.95</text>
<text class="dl" x="508.37" y="647.07">2.04</text>
<text class="dl" x="536.71" y="647.07">2.27</text>
<text class="dl" x="565.06" y="647.07">1.97</text>
<text class="dl" x="593.4" y="647.07">2.52</text>
<text class="dl" x="621.75" y="647.07">1.92</text>
<text class="dl" x="650.1" y="647.07">2.74</text>
<text class="dl" x="678.44" y="647.07">1.86</text>
<text class="dl" x="706.79" y="647.07">2.95</text>
<text class="dl" x="735.13" y="647.07">1.80</text>
<text class="dl" x="763.48" y="647.07">3.22</text>
<text class="dl" x="139.9" y="668.35">1640</text>
<text class="dl" x="168.22" y="668.35">2.66</text>
<text class="dl" x="196.57" y="668.35">0.80</text>
<text class="dl" x="224.91" y="668.35">2.59</text>
<text class="dl" x="253.26" y="668.35">1.05</text>
<text class="dl" x="281.6" y="668.35">2.51</text>
<text class="dl" x="309.95" y="668.35">1.35</text>
<text class="dl" x="338.3" y="668.35">2.44</text>
<text class="dl" x="366.64" y="668.35">1.62</text>
<text class="dl" x="394.99" y="668.35">2.38</text>
<text class="dl" x="423.33" y="668.35">1.85</text>
<text class="dl" x="451.68" y="668.35">2.32</text>
<text class="dl" x="480.02" y="668.35">2.15</text>
<text class="dl" x="508.37" y="668.35">2.62</text>
<text class="dl" x="536.71" y="668.35">2.48</text>
<text class="dl" x="565.06" y="668.35">2.20</text>
<text class="dl" x="593.4" y="668.35">2.75</text>
<text class="dl" x="621.75" y="668.35">2.14</text>
<text class="dl" x="650.1" y="668.35">2.93</text>
<text class="dl" x="678.44" y="668.35">2.08</text>
<text class="dl" x="706.79" y="668.35">3.24</text>
<text class="dl" x="735.13" y="668.35">2.03</text>
<text class="dl" x="763.48" y="668.35">3.44</text>
<text class="dl" x="139.9" y="689.62">1740</text>
<text class="dl" x="168.22" y="689.62">2.88</text>
<text class="dl" x="196.57" y="689.62">0.89</text>
<text class="dl" x="224.91" y="689.62">2.78</text>
<text class="dl" x="253.26" y="689.62">1.20</text>
<text class="dl" x="281.6" y="689.62">2.71</text>
<text class="dl" x="309.95" y="689.62">1.45</text>
<text class="dl" x="338.3" y="689.62">2.64</text>
<text class="dl" x="366.64" y="689.62">1.76</text>
<text class="dl" x="394.99" y="689.62">2.58</text>
<text class="dl" x="423.33" y="689.62">2.02</text>
<text class="dl" x="451.68" y="689.62">2.53</text>
<text class="dl" x="480.02" y="689.62">2.32</text>
<text class="dl" x="508.37" y="689.62">2.48</text>
<text class="dl" x="536.71" y="689.62">2.66</text>
<text class="dl" x="565.06" y="689.62">2.41</text>
<text class="dl" x="593.4" y="689.62">2.96</text>
<text class="dl" x="621.75" y="689.62">2.34</text>
<text class="dl" x="650.1" y="689.62">3.18</text>
<text class="dl" x="678.44" y="689.62">2.28</text>
<text class="dl" x="706.79" y="689.62">3.47</text>
<text class="dl" x="735.13" y="689.62">2.23</text>
<text class="dl" x="763.48" y="689.62">3.72</text>
<text class="dl" x="139.9" y="710.9">1820</text>
<text class="dl" x="168.22" y="710.9">3.00</text>
<text class="dl" x="196.57" y="710.9">0.96</text>
<text class="dl" x="224.91" y="710.9">3.01</text>
<text class="dl" x="253.26" y="710.9">1.25</text>
<text class="dl" x="281.6" y="710.9">2.92</text>
<text class="dl" x="309.95" y="710.9">1.54</text>
<text class="dl" x="338.3" y="710.9">2.83</text>
<text class="dl" x="366.64" y="710.9">1.88</text>
<text class="dl" x="394.99" y="710.9">2.75</text>
<text class="dl" x="423.33" y="710.9">2.15</text>
<text class="dl" x="451.68" y="710.9">2.68</text>
<text class="dl" x="480.02" y="710.9">2.44</text>
<text class="dl" x="508.37" y="710.9">2.62</text>
<text class="dl" x="536.71" y="710.9">2.75</text>
<text class="dl" x="565.06" y="710.9">2.56</text>
<text class="dl" x="593.4" y="710.9">3.12</text>
<text class="dl" x="621.75" y="710.9">2.50</text>
<text class="dl" x="650.1" y="710.9">3.35</text>
<text class="dl" x="678.44" y="710.9">2.44</text>
<text class="dl" x="706.79" y="710.9">3.65</text>
<text class="dl" x="735.13" y="710.9">2.38</text>
<text class="dl" x="763.48" y="710.9">3.93</text>
<text class="dl" x="139.9" y="732.18">1940</text>
<text class="dl" x="168.22" y="732.18">3.23</text>
<text class="dl" x="196.57" y="732.18">1.11</text>
<text class="dl" x="224.91" y="732.18">3.15</text>
<text class="dl" x="253.26" y="732.18">1.42</text>
<text class="dl" x="281.6" y="732.18">3.07</text>
<text class="dl" x="309.95" y="732.18">1.73</text>
<text class="dl" x="338.3" y="732.18">3.04</text>
<text class="dl" x="366.64" y="732.18">2.05</text>
<text class="dl" x="394.99" y="732.18">2.98</text>
<text class="dl" x="423.33" y="732.18">2.33</text>
<text class="dl" x="451.68" y="732.18">2.92</text>
<text class="dl" x="480.02" y="732.18">2.68</text>
<text class="dl" x="508.37" y="732.18">2.85</text>
<text class="dl" x="536.71" y="732.18">3.04</text>
<text class="dl" x="565.06" y="732.18">2.79</text>
<text class="dl" x="593.4" y="732.18">3.38</text>
<text class="dl" x="621.75" y="732.18">2.74</text>
<text class="dl" x="650.1" y="732.18">3.57</text>
<text class="dl" x="678.44" y="732.18">2.68</text>
<text class="dl" x="706.79" y="732.18">3.92</text>
<text class="dl" x="735.13" y="732.18">2.63</text>
<text class="dl" x="763.48" y="732.18">4.22</text>
<text class="dl" x="139.9" y="753.45">2130</text>
<text class="dl" x="168.22" y="753.45">3.66</text>
<text class="dl" x="196.57" y="753.45">1.33</text>
<text class="dl" x="224.91" y="753.45">3.57</text>
<text class="dl" x="253.26" y="753.45">1.63</text>
<text class="dl" x="281.6" y="753.45">3.48</text>
<text class="dl" x="309.95" y="753.45">1.93</text>
<text class="dl" x="338.3" y="753.45">3.42</text>
<text class="dl" x="366.64" y="753.45">2.32</text>
<text class="dl" x="394.99" y="753.45">3.35</text>
<text class="dl" x="423.33" y="753.45">2.67</text>
<text class="dl" x="451.68" y="753.45">3.30</text>
<text class="dl" x="480.02" y="753.45">3.03</text>
<text class="dl" x="508.37" y="753.45">3.25</text>
<text class="dl" x="536.71" y="753.45">3.38</text>
<text class="dl" x="565.06" y="753.45">3.17</text>
<text class="dl" x="593.4" y="753.45">3.74</text>
<text class="dl" x="621.75" y="753.45">3.11</text>
<text class="dl" x="650.1" y="753.45">4.02</text>
<text class="dl" x="678.44" y="753.45">3.06</text>
<text class="dl" x="706.79" y="753.45">4.32</text>
<text class="dl" x="735.13" y="753.45">3.02</text>
<text class="dl" x="763.48" y="753.45">4.64</text>
<text class="dl" x="139.9" y="774.73">2300</text>
<text class="dl" x="168.22" y="774.73">3.8</text>
<text class="dl" x="196.57" y="774.73">1.42</text>
<text class="dl" x="224.91" y="774.73">3.72</text>
<text class="dl" x="253.26" y="774.73">1.78</text>
<text class="dl" x="281.6" y="774.73">3.64</text>
<text class="dl" x="309.95" y="774.73">2.14</text>
<text class="dl" x="338.3" y="774.73">3.57</text>
<text class="dl" x="366.64" y="774.73">2.52</text>
<text class="dl" x="394.99" y="774.73">3.50</text>
<text class="dl" x="423.33" y="774.73">2.92</text>
<text class="dl" x="451.68" y="774.73">3.43</text>
<text class="dl" x="480.02" y="774.73">3.31</text>
<text class="dl" x="508.37" y="774.73">3.35</text>
<text class="dl" x="536.71" y="774.73">3.85</text>
<text class="dl" x="565.06" y="774.73">3.30</text>
<text class="dl" x="593.4" y="774.73">4.23</text>
<text class="dl" x="621.75" y="774.73">3.25</text>
<text class="dl" x="650.1" y="774.73">4.45</text>
<text class="dl" x="678.44" y="774.73">3.20</text>
<text class="dl" x="706.79" y="774.73">4.92</text>
<text class="dl" x="735.13" y="774.73">3.15</text>
<text class="dl" x="763.48" y="774.73">5.35</text>
<text class="ml" x="82.8" y="888.54" textLength="17.2" lengthAdjust="spacingAndGlyphs">JGR</text>
<text class="ml" x="82.8" y="902.64" textLength="11.2" lengthAdjust="spacingAndGlyphs">80</text>
<text class="ml" x="110.9" y="896.79" textLength="17.2" lengthAdjust="spacingAndGlyphs">80A</text>
<text class="dl" x="139.9" y="796.01">1140</text>
<text class="dl" x="168.22" y="796.01">3.09</text>
<text class="dl" x="196.57" y="796.01">1.04</text>
<text class="dl" x="224.91" y="796.01">3.02</text>
<text class="dl" x="253.26" y="796.01">1.34</text>
<text class="dl" x="281.6" y="796.01">2.92</text>
<text class="dl" x="309.95" y="796.01">1.62</text>
<text class="dl" x="338.3" y="796.01">2.82</text>
<text class="dl" x="366.64" y="796.01">1.95</text>
<text class="dl" x="394.99" y="796.01">2.75</text>
<text class="dl" x="423.33" y="796.01">2.12</text>
<text class="dl" x="451.68" y="796.01">2.68</text>
<text class="dl" x="480.02" y="796.01">2.45</text>
<text class="dl" x="508.37" y="796.01">2.59</text>
<text class="dl" x="536.71" y="796.01">2.67</text>
<text class="dl" x="565.06" y="796.01">2.52</text>
<text class="dl" x="593.4" y="796.01">3.02</text>
<text class="dl" x="621.75" y="796.01">2.45</text>
<text class="dl" x="650.1" y="796.01">3.25</text>
<text class="dl" x="678.44" y="796.01">2.38</text>
<text class="dl" x="706.79" y="796.01">3.45</text>
<text class="dl" x="735.13" y="796.01">2.34</text>
<text class="dl" x="763.48" y="796.01">3.76</text>
<text class="dl" x="139.9" y="817.28">1230</text>
<text class="dl" x="168.22" y="817.28">3.37</text>
<text class="dl" x="196.57" y="817.28">1.14</text>
<text class="dl" x="224.91" y="817.28">3.25</text>
<text class="dl" x="253.26" y="817.28">1.44</text>
<text class="dl" x="281.6" y="817.28">3.15</text>
<text class="dl" x="309.95" y="817.28">1.75</text>
<text class="dl" x="338.3" y="817.28">3.08</text>
<text class="dl" x="366.64" y="817.28">2.04</text>
<text class="dl" x="394.99" y="817.28">3.04</text>
<text class="dl" x="423.33" y="817.28">2.33</text>
<text class="dl" x="451.68" y="817.28">2.95</text>
<text class="dl" x="480.02" y="817.28">2.63</text>
<text class="dl" x="508.37" y="817.28">2.88</text>
<text class="dl" x="536.71" y="817.28">2.96</text>
<text class="dl" x="565.06" y="817.28">2.80</text>
<text class="dl" x="593.4" y="817.28">3.25</text>
<text class="dl" x="621.75" y="817.28">2.74</text>
<text class="dl" x="650.1" y="817.28">3.55</text>
<text class="dl" x="678.44" y="817.28">2.65</text>
<text class="dl" x="706.79" y="817.28">3.83</text>
<text class="dl" x="735.13" y="817.28">2.60</text>
<text class="dl" x="763.48" y="817.28">4.13</text>
<text class="dl" x="139.9" y="838.56">1300</text>
<text class="dl" x="168.22" y="838.56">3.59</text>
<text class="dl" x="196.57" y="838.56">1.22</text>
<text class="dl" x="224.91" y="838.56">3.52</text>
<text class="dl" x="253.26" y="838.56">1.55</text>
<text class="dl" x="281.6" y="838.56">3.42</text>
<text class="dl" x="309.95" y="838.56">1.86</text>
<text class="dl" x="338.3" y="838.56">3.35</text>
<text class="dl" x="366.64" y="838.56">2.23</text>
<text class="dl" x="394.99" y="838.56">3.28</text>
<text class="dl" x="423.33" y="838.56">2.53</text>
<text class="dl" x="451.68" y="838.56">3.22</text>
<text class="dl" x="480.02" y="838.56">2.85</text>
<text class="dl" x="508.37" y="838.56">3.14</text>
<text class="dl" x="536.71" y="838.56">3.16</text>
<text class="dl" x="565.06" y="838.56">3.05</text>
<text class="dl" x="593.4" y="838.56">3.47</text>
<text class="dl" x="621.75" y="838.56">2.98</text>
<text class="dl" x="650.1" y="838.56">3.75</text>
<text class="dl" x="678.44" y="838.56">2.92</text>
<text class="dl" x="706.79" y="838.56">4.07</text>
<text class="dl" x="735.13" y="838.56">2.86</text>
<text class="dl" x="763.48" y="838.56">4.43</text>
<text class="dl" x="139.9" y="859.83">1360</text>
<text class="dl" x="168.22" y="859.83">3.77</text>
<text class="dl" x="196.57" y="859.83">1.29</text>
<text class="dl" x="224.91" y="859.83">3.65</text>
<text class="dl" x="253.26" y="859.83">1.65</text>
<text class="dl" x="281.6" y="859.83">3.55</text>
<text class="dl" x="309.95" y="859.83">1.97</text>
<text class="dl" x="338.3" y="859.83">3.50</text>
<text class="dl" x="366.64" y="859.83">2.35</text>
<text class="dl" x="394.99" y="859.83">3.44</text>
<text class="dl" x="423.33" y="859.83">2.62</text>
<text class="dl" x="451.68" y="859.83">3.35</text>
<text class="dl" x="480.02" y="859.83">2.97</text>
<text class="dl" x="508.37" y="859.83">3.30</text>
<text class="dl" x="536.71" y="859.83">3.33</text>
<text class="dl" x="565.06" y="859.83">3.20</text>
<text class="dl" x="593.4" y="859.83">3.65</text>
<text class="dl" x="621.75" y="859.83">3.14</text>
<text class="dl" x="650.1" y="859.83">3.95</text>
<text class="dl" x="678.44" y="859.83">3.07</text>
<text class="dl" x="706.79" y="859.83">4.32</text>
<text class="dl" x="735.13" y="859.83">3.01</text>
<text class="dl" x="763.48" y="859.83">4.67</text>
<text class="dl" x="139.9" y="881.11">1440</text>
<text class="st" x="116.9" y="882.63">★</text>
<text class="dl" x="168.22" y="881.11">4.06</text>
<text class="dl" x="196.57" y="881.11">1.40</text>
<text class="dl" x="224.91" y="881.11">3.90</text>
<text class="dl" x="253.26" y="881.11">1.80</text>
<text class="dl" x="281.6" y="881.11">3.82</text>
<text class="dl" x="309.95" y="881.11">2.12</text>
<text class="dl" x="338.3" y="881.11">3.71</text>
<text class="dl" x="366.64" y="881.11">2.53</text>
<text class="dl" x="394.99" y="881.11">3.58</text>
<text class="dl" x="423.33" y="881.11">3.11</text>
<text class="dl" x="451.68" y="881.11">3.50</text>
<text class="dl" x="480.02" y="881.11">3.22</text>
<text class="dl" x="508.37" y="881.11">3.42</text>
<text class="dl" x="536.71" y="881.11">3.80</text>
<text class="dl" x="565.06" y="881.11">3.34</text>
<text class="dl" x="593.4" y="881.11">3.91</text>
<text class="dl" x="621.75" y="881.11">3.27</text>
<text class="dl" x="650.1" y="881.11">4.09</text>
<text class="dl" x="678.44" y="881.11">3.20</text>
<text class="dl" x="706.79" y="881.11">4.65</text>
<text class="dl" x="735.13" y="881.11">3.14</text>
<text class="dl" x="763.48" y="881.11">5.35</text>
<text class="dl" x="139.9" y="902.39">1560</text>
<text class="dl" x="168.22" y="902.39">4.38</text>
<text class="dl" x="196.57" y="902.39">1.52</text>
<text class="dl" x="224.91" y="902.39">4.19</text>
<text class="dl" x="253.26" y="902.39">1.95</text>
<text class="dl" x="281.6" y="902.39">4.11</text>
<text class="dl" x="309.95" y="902.39">2.34</text>
<text class="dl" x="338.3" y="902.39">4.03</text>
<text class="dl" x="366.64" y="902.39">2.76</text>
<text class="dl" x="394.99" y="902.39">3.95</text>
<text class="dl" x="423.33" y="902.39">3.38</text>
<text class="dl" x="451.68" y="902.39">3.88</text>
<text class="dl" x="480.02" y="902.39">3.46</text>
<text class="dl" x="508.37" y="902.39">3.81</text>
<text class="dl" x="536.71" y="902.39">4.15</text>
<text class="dl" x="565.06" y="902.39">3.73</text>
<text class="dl" x="593.4" y="902.39">4.41</text>
<text class="dl" x="621.75" y="902.39">3.65</text>
<text class="dl" x="650.1" y="902.39">4.97</text>
<text class="dl" x="678.44" y="902.39">3.58</text>
<text class="dl" x="706.79" y="902.39">5.25</text>
<text class="dl" x="735.13" y="902.39">3.52</text>
<text class="dl" x="763.48" y="902.39">5.77</text>
<text class="dl" x="139.9" y="923.66">1650</text>
<text class="dl" x="168.22" y="923.66">4.66</text>
<text class="dl" x="196.57" y="923.66">1.62</text>
<text class="dl" x="224.91" y="923.66">4.55</text>
<text class="dl" x="253.26" y="923.66">2.13</text>
<text class="dl" x="281.6" y="923.66">4.45</text>
<text class="dl" x="309.95" y="923.66">2.52</text>
<text class="dl" x="338.3" y="923.66">4.43</text>
<text class="dl" x="366.64" y="923.66">2.94</text>
<text class="dl" x="394.99" y="923.66">4.25</text>
<text class="dl" x="423.33" y="923.66">3.53</text>
<text class="dl" x="451.68" y="923.66">4.19</text>
<text class="dl" x="480.02" y="923.66">3.75</text>
<text class="dl" x="508.37" y="923.66">4.14</text>
<text class="dl" x="536.71" y="923.66">4.46</text>
<text class="dl" x="565.06" y="923.66">4.04</text>
<text class="dl" x="593.4" y="923.66">4.74</text>
<text class="dl" x="621.75" y="923.66">3.91</text>
<text class="dl" x="650.1" y="923.66">5.32</text>
<text class="dl" x="678.44" y="923.66">3.89</text>
<text class="dl" x="706.79" y="923.66">5.62</text>
<text class="dl" x="735.13" y="923.66">3.84</text>
<text class="dl" x="763.48" y="923.66">6.13</text>
<text class="dl" x="139.9" y="944.94">1730</text>
<text class="dl" x="168.22" y="944.94">4.90</text>
<text class="dl" x="196.57" y="944.94">1.77</text>
<text class="dl" x="224.91" y="944.94">4.80</text>
<text class="dl" x="253.26" y="944.94">2.25</text>
<text class="dl" x="281.6" y="944.94">4.75</text>
<text class="dl" x="309.95" y="944.94">2.66</text>
<text class="dl" x="338.3" y="944.94">4.69</text>
<text class="dl" x="366.64" y="944.94">3.05</text>
<text class="dl" x="394.99" y="944.94">4.53</text>
<text class="dl" x="423.33" y="944.94">3.74</text>
<text class="dl" x="451.68" y="944.94">4.45</text>
<text class="dl" x="480.02" y="944.94">3.94</text>
<text class="dl" x="508.37" y="944.94">4.37</text>
<text class="dl" x="536.71" y="944.94">4.65</text>
<text class="dl" x="565.06" y="944.94">4.29</text>
<text class="dl" x="593.4" y="944.94">4.82</text>
<text class="dl" x="621.75" y="944.94">4.22</text>
<text class="dl" x="650.1" y="944.94">5.55</text>
<text class="dl" x="678.44" y="944.94">4.15</text>
<text class="dl" x="706.79" y="944.94">5.72</text>
<text class="dl" x="735.13" y="944.94">4.07</text>
<text class="dl" x="763.48" y="944.94">6.45</text>
<text class="dl" x="139.9" y="966.22">1820</text>
<text class="dl" x="168.22" y="966.22">5.22</text>
<text class="dl" x="196.57" y="966.22">1.88</text>
<text class="dl" x="224.91" y="966.22">5.12</text>
<text class="dl" x="253.26" y="966.22">2.35</text>
<text class="dl" x="281.6" y="966.22">5.02</text>
<text class="dl" x="309.95" y="966.22">2.82</text>
<text class="dl" x="338.3" y="966.22">4.96</text>
<text class="dl" x="366.64" y="966.22">3.25</text>
<text class="dl" x="394.99" y="966.22">4.82</text>
<text class="dl" x="423.33" y="966.22">3.95</text>
<text class="dl" x="451.68" y="966.22">4.74</text>
<text class="dl" x="480.02" y="966.22">4.13</text>
<text class="dl" x="508.37" y="966.22">4.66</text>
<text class="dl" x="536.71" y="966.22">4.95</text>
<text class="dl" x="565.06" y="966.22">4.58</text>
<text class="dl" x="593.4" y="966.22">5.06</text>
<text class="dl" x="621.75" y="966.22">4.51</text>
<text class="dl" x="650.1" y="966.22">5.85</text>
<text class="dl" x="678.44" y="966.22">4.43</text>
<text class="dl" x="706.79" y="966.22">6.04</text>
<text class="dl" x="735.13" y="966.22">4.35</text>
<text class="dl" x="763.48" y="966.22">6.84</text>
<text class="dl" x="139.9" y="987.49">1900</text>
<text class="dl" x="168.22" y="987.49">5.51</text>
<text class="dl" x="196.57" y="987.49">2.11</text>
<text class="dl" x="224.91" y="987.49">5.38</text>
<text class="dl" x="253.26" y="987.49">2.52</text>
<text class="dl" x="281.6" y="987.49">5.25</text>
<text class="dl" x="309.95" y="987.49">2.93</text>
<text class="dl" x="338.3" y="987.49">5.17</text>
<text class="dl" x="366.64" y="987.49">3.46</text>
<text class="dl" x="394.99" y="987.49">5.13</text>
<text class="dl" x="423.33" y="987.49">4.14</text>
<text class="dl" x="451.68" y="987.49">5.04</text>
<text class="dl" x="480.02" y="987.49">4.33</text>
<text class="dl" x="508.37" y="987.49">4.93</text>
<text class="dl" x="536.71" y="987.49">5.15</text>
<text class="dl" x="565.06" y="987.49">4.87</text>
<text class="dl" x="593.4" y="987.49">5.35</text>
<text class="dl" x="621.75" y="987.49">4.77</text>
<text class="dl" x="650.1" y="987.49">6.14</text>
<text class="dl" x="678.44" y="987.49">4.70</text>
<text class="dl" x="706.79" y="987.49">6.35</text>
<text class="dl" x="735.13" y="987.49">4.63</text>
<text class="dl" x="763.48" y="987.49">7.42</text>
<text class="dl" x="139.9" y="1008.77">2100</text>
<text class="dl" x="168.22" y="1008.77">6.13</text>
<text class="dl" x="196.57" y="1008.77">2.35</text>
<text class="dl" x="224.91" y="1008.77">6.04</text>
<text class="dl" x="253.26" y="1008.77">2.80</text>
<text class="dl" x="281.6" y="1008.77">5.95</text>
<text class="dl" x="309.95" y="1008.77">3.25</text>
<text class="dl" x="338.3" y="1008.77">5.86</text>
<text class="dl" x="366.64" y="1008.77">3.80</text>
<text class="dl" x="394.99" y="1008.77">5.78</text>
<text class="dl" x="423.33" y="1008.77">4.65</text>
<text class="dl" x="451.68" y="1008.77">5.71</text>
<text class="dl" x="480.02" y="1008.77">4.79</text>
<text class="dl" x="508.37" y="1008.77">5.63</text>
<text class="dl" x="536.71" y="1008.77">5.87</text>
<text class="dl" x="565.06" y="1008.77">5.54</text>
<text class="dl" x="593.4" y="1008.77">5.91</text>
<text class="dl" x="621.75" y="1008.77">5.46</text>
<text class="dl" x="650.1" y="1008.77">7.12</text>
<text class="dl" x="678.44" y="1008.77">5.39</text>
<text class="dl" x="706.79" y="1008.77">7.01</text>
<text class="dl" x="735.13" y="1008.77">5.33</text>
<text class="dl" x="763.48" y="1008.77">7.95</text>
<text class="dl" x="139.9" y="1030.05">2300</text>
<text class="dl" x="168.22" y="1030.05">6.21</text>
<text class="dl" x="196.57" y="1030.05">2.55</text>
<text class="dl" x="224.91" y="1030.05">6.12</text>
<text class="dl" x="253.26" y="1030.05">3.08</text>
<text class="dl" x="281.6" y="1030.05">6.03</text>
<text class="dl" x="309.95" y="1030.05">3.61</text>
<text class="dl" x="338.3" y="1030.05">5.94</text>
<text class="dl" x="366.64" y="1030.05">4.54</text>
<text class="dl" x="394.99" y="1030.05">5.85</text>
<text class="dl" x="423.33" y="1030.05">4.85</text>
<text class="dl" x="451.68" y="1030.05">5.79</text>
<text class="dl" x="480.02" y="1030.05">5.24</text>
<text class="dl" x="508.37" y="1030.05">5.74</text>
<text class="dl" x="536.71" y="1030.05">6.17</text>
<text class="dl" x="565.06" y="1030.05">5.69</text>
<text class="dl" x="593.4" y="1030.05">6.70</text>
<text class="dl" x="621.75" y="1030.05">5.64</text>
<text class="dl" x="650.1" y="1030.05">7.53</text>
<text class="dl" x="678.44" y="1030.05">5.59</text>
<text class="dl" x="706.79" y="1030.05">7.68</text>
<text class="dl" x="735.13" y="1030.05">5.55</text>
<text class="dl" x="763.48" y="1030.05">8.15</text>
<rect x="983.6" y="292" width="56.73" height="19" fill="#e0ffb8"/>
<rect x="1040.33" y="292" width="170.18" height="19" fill="#c4f774"/>
<rect x="1210.51" y="292" width="113.45" height="19" fill="#ffff94"/>
<rect x="1323.96" y="292" width="170.18" height="19" fill="#aeeeff"/>
<rect x="1494.15" y="292" width="113.45" height="19" fill="#ffe07a"/>
<rect x="983.6" y="310.7" width="56.73" height="19" fill="#e0ffb8"/>
<rect x="1040.33" y="310.7" width="113.45" height="19" fill="#c4f774"/>
<rect x="1153.78" y="310.7" width="113.45" height="19" fill="#ffff94"/>
<rect x="1267.24" y="310.7" width="170.18" height="19" fill="#aeeeff"/>
<rect x="1437.42" y="310.7" width="170.18" height="19" fill="#ffe07a"/>
<rect x="983.6" y="329.4" width="56.73" height="19" fill="#e0ffb8"/>
<rect x="1040.33" y="329.4" width="56.73" height="19" fill="#c4f774"/>
<rect x="1097.05" y="329.4" width="113.45" height="19" fill="#ffff94"/>
<rect x="1210.51" y="329.4" width="170.18" height="19" fill="#aeeeff"/>
<rect x="1380.69" y="329.4" width="226.91" height="19" fill="#ffe07a"/>
<rect x="983.6" y="348.11" width="113.45" height="19" fill="#c4f774"/>
<rect x="1097.05" y="348.11" width="113.45" height="19" fill="#ffff94"/>
<rect x="1210.51" y="348.11" width="113.45" height="19" fill="#aeeeff"/>
<rect x="1323.96" y="348.11" width="226.91" height="19" fill="#ffe07a"/>
<rect x="1550.87" y="348.11" width="56.73" height="19" fill="#ff94e4"/>
<rect x="983.6" y="366.81" width="56.73" height="19" fill="#c4f774"/>
<rect x="1040.33" y="366.81" width="113.45" height="19" fill="#ffff94"/>
<rect x="1153.78" y="366.81" width="113.45" height="19" fill="#aeeeff"/>
<rect x="1267.24" y="366.81" width="226.91" height="19" fill="#ffe07a"/>
<rect x="1494.15" y="366.81" width="113.45" height="19" fill="#ff94e4"/>
<rect x="983.6" y="385.51" width="56.73" height="19" fill="#c4f774"/>
<rect x="1040.33" y="385.51" width="56.73" height="19" fill="#ffff94"/>
<rect x="1097.05" y="385.51" width="170.18" height="19" fill="#aeeeff"/>
<rect x="1267.24" y="385.51" width="170.18" height="19" fill="#ffe07a"/>
<rect x="1437.42" y="385.51" width="170.18" height="19" fill="#ff94e4"/>
<rect x="983.6" y="404.21" width="113.45" height="19" fill="#ffff94"/>
<rect x="1097.05" y="404.21" width="113.45" height="19" fill="#aeeeff"/>
<rect x="1210.51" y="404.21" width="170.18" height="19" fill="#ffe07a"/>
<rect x="1380.69" y="404.21" width="226.91" height="19" fill="#ff94e4"/>
<rect x="983.6" y="422.92" width="56.73" height="19" fill="#ffff94"/>
<rect x="1040.33" y="422.92" width="113.45" height="19" fill="#aeeeff"/>
<rect x="1153.78" y="422.92" width="170.18" height="19" fill="#ffe07a"/>
<rect x="1323.96" y="422.92" width="226.91" height="19" fill="#ff94e4"/>
<rect x="1550.87" y="422.92" width="56.73" height="19" fill="#ffe1c2"/>
<rect x="983.6" y="441.62" width="56.73" height="19" fill="#ffff94"/>
<rect x="1040.33" y="441.62" width="113.45" height="19" fill="#aeeeff"/>
<rect x="1153.78" y="441.62" width="113.45" height="19" fill="#ffe07a"/>
<rect x="1267.24" y="441.62" width="226.91" height="19" fill="#ff94e4"/>
<rect x="1494.15" y="441.62" width="113.45" height="19" fill="#ffe1c2"/>
<rect x="983.6" y="460.32" width="113.45" height="19" fill="#aeeeff"/>
<rect x="1097.05" y="460.32" width="170.18" height="19" fill="#ffe07a"/>
<rect x="1267.24" y="460.32" width="170.18" height="19" fill="#ff94e4"/>
<rect x="1437.42" y="460.32" width="170.18" height="19" fill="#ffe1c2"/>
<rect x="983.6" y="479.02" width="56.73" height="19" fill="#aeeeff"/>
<rect x="1040.33" y="479.02" width="113.45" height="19" fill="#ffe07a"/>
<rect x="1153.78" y="479.02" width="226.91" height="19" fill="#ff94e4"/>
<rect x="1380.69" y="479.02" width="226.91" height="19" fill="#ffe1c2"/>
<rect x="983.6" y="497.73" width="170.18" height="19" fill="#ffe07a"/>
<rect x="1153.78" y="497.73" width="226.91" height="19" fill="#ff94e4"/>
<rect x="1380.69" y="497.73" width="226.91" height="19" fill="#ffe1c2"/>
<rect x="983.6" y="516.43" width="56.73" height="19" fill="#c4f774"/>
<rect x="1040.33" y="516.43" width="283.64" height="19" fill="#aeeeff"/>
<rect x="1323.96" y="516.43" width="170.18" height="19" fill="#ffe07a"/>
<rect x="1494.15" y="516.43" width="113.45" height="19" fill="#ff94e4"/>
<rect x="983.6" y="535.13" width="56.73" height="19" fill="#c4f774"/>
<rect x="1040.33" y="535.13" width="226.91" height="19" fill="#aeeeff"/>
<rect x="1267.24" y="535.13" width="170.18" height="19" fill="#ffe07a"/>
<rect x="1437.42" y="535.13" width="170.18" height="19" fill="#ff94e4"/>
<rect x="983.6" y="553.83" width="56.73" height="19" fill="#c4f774"/>
<rect x="1040.33" y="553.83" width="170.18" height="19" fill="#aeeeff"/>
<rect x="1210.51" y="553.83" width="170.18" height="19" fill="#ffe07a"/>
<rect x="1380.69" y="553.83" width="226.91" height="19" fill="#ff94e4"/>
<rect x="983.6" y="572.54" width="56.73" height="19" fill="#ffff94"/>
<rect x="1040.33" y="572.54" width="113.45" height="19" fill="#aeeeff"/>
<rect x="1153.78" y="572.54" width="170.18" height="19" fill="#ffe07a"/>
<rect x="1323.96" y="572.54" width="226.91" height="19" fill="#ff94e4"/>
<rect x="1550.87" y="572.54" width="56.73" height="19" fill="#ffe1c2"/>
<rect x="983.6" y="591.24" width="56.73" height="19" fill="#ffff94"/>
<rect x="1040.33" y="591.24" width="113.45" height="19" fill="#aeeeff"/>
<rect x="1153.78" y="591.24" width="113.45" height="19" fill="#ffe07a"/>
<rect x="1267.24" y="591.24" width="170.18" height="19" fill="#ff94e4"/>
<rect x="1437.42" y="591.24" width="170.18" height="19" fill="#ffe1c2"/>
<rect x="983.6" y="609.94" width="56.73" height="19" fill="#ffff94"/>
<rect x="1040.33" y="609.94" width="56.73" height="19" fill="#aeeeff"/>
<rect x="1097.05" y="609.94" width="170.18" height="19" fill="#ffe07a"/>
<rect x="1267.24" y="609.94" width="170.18" height="19" fill="#ff94e4"/>
<rect x="1437.42" y="609.94" width="170.18" height="19" fill="#ffe1c2"/>
<rect x="983.6" y="628.64" width="113.45" height="19" fill="#aeeeff"/>
<rect x="1097.05" y="628.64" width="113.45" height="19" fill="#ffe07a"/>
<rect x="1210.51" y="628.64" width="170.18" height="19" fill="#ff94e4"/>
<rect x="1380.69" y="628.64" width="226.91" height="19" fill="#ffe1c2"/>
<rect x="983.6" y="647.35" width="56.73" height="19" fill="#aeeeff"/>
<rect x="1040.33" y="647.35" width="113.45" height="19" fill="#ffe07a"/>
<rect x="1153.78" y="647.35" width="170.18" height="19" fill="#ff94e4"/>
<rect x="1323.96" y="647.35" width="226.91" height="19" fill="#ffe1c2"/>
<rect x="1550.87" y="647.35" width="56.73" height="19" fill="#9cf03c"/>
<rect x="983.6" y="666.05" width="170.18" height="19" fill="#ffe07a"/>
<rect x="1153.78" y="666.05" width="113.45" height="19" fill="#ff94e4"/>
<rect x="1267.24" y="666.05" width="226.91" height="19" fill="#ffe1c2"/>
<rect x="1494.15" y="666.05" width="113.45" height="19" fill="#9cf03c"/>
<rect x="983.6" y="684.75" width="113.45" height="19" fill="#ffe07a"/>
<rect x="1097.05" y="684.75" width="170.18" height="19" fill="#ff94e4"/>
<rect x="1267.24" y="684.75" width="170.18" height="19" fill="#ffe1c2"/>
<rect x="1437.42" y="684.75" width="170.18" height="19" fill="#9cf03c"/>
<rect x="983.6" y="703.45" width="226.91" height="19" fill="#ff94e4"/>
<rect x="1210.51" y="703.45" width="170.18" height="19" fill="#ffe1c2"/>
<rect x="1380.69" y="703.45" width="113.45" height="19" fill="#9cf03c"/>
<rect x="1494.15" y="703.45" width="113.45" height="19" fill="#ffffd9"/>
<rect x="983.6" y="722.15" width="56.73" height="19" fill="#aeeeff"/>
<rect x="1040.33" y="722.15" width="113.45" height="19" fill="#ffe07a"/>
<rect x="1153.78" y="722.15" width="170.18" height="19" fill="#ff94e4"/>
<rect x="1323.96" y="722.15" width="170.18" height="19" fill="#ffe1c2"/>
<rect x="1494.15" y="722.15" width="113.45" height="19" fill="#9cf03c"/>
<rect x="983.6" y="740.86" width="56.73" height="19" fill="#aeeeff"/>
<rect x="1040.33" y="740.86" width="113.45" height="19" fill="#ffe07a"/>
<rect x="1153.78" y="740.86" width="113.45" height="19" fill="#ff94e4"/>
<rect x="1267.24" y="740.86" width="170.18" height="19" fill="#ffe1c2"/>
<rect x="1437.42" y="740.86" width="170.18" height="19" fill="#9cf03c"/>
<rect x="983.6" y="759.56" width="113.45" height="19" fill="#ffe07a"/>
<rect x="1097.05" y="759.56" width="113.45" height="19" fill="#ff94e4"/>
<rect x="1210.51" y="759.56" width="170.18" height="19" fill="#ffe1c2"/>
<rect x="1380.69" y="759.56" width="113.45" height="19" fill="#9cf03c"/>
<rect x="1494.15" y="759.56" width="113.45" height="19" fill="#ffffd9"/>
<rect x="983.6" y="778.26" width="56.73" height="19" fill="#ffe07a"/>
<rect x="1040.33" y="778.26" width="113.45" height="19" fill="#ff94e4"/>
<rect x="1153.78" y="778.26" width="113.45" height="19" fill="#ffe1c2"/>
<rect x="1267.24" y="778.26" width="113.45" height="19" fill="#9cf03c"/>
<rect x="1380.69" y="778.26" width="113.45" height="19" fill="#ffffd9"/>
<rect x="1494.15" y="778.26" width="113.45" height="19" fill="#c4c4ff"/>
<rect x="983.6" y="796.96" width="113.45" height="19" fill="#ff94e4"/>
<rect x="1097.05" y="796.96" width="170.18" height="19" fill="#ffe1c2"/>
<rect x="1267.24" y="796.96" width="56.73" height="19" fill="#9cf03c"/>
<rect x="1323.96" y="796.96" width="113.45" height="19" fill="#ffffd9"/>
<rect x="1437.42" y="796.96" width="170.18" height="19" fill="#c4c4ff"/>
<rect x="983.6" y="815.67" width="113.45" height="19" fill="#ff94e4"/>
<rect x="1097.05" y="815.67" width="113.45" height="19" fill="#ffe1c2"/>
<rect x="1210.51" y="815.67" width="113.45" height="19" fill="#9cf03c"/>
<rect x="1323.96" y="815.67" width="113.45" height="19" fill="#ffffd9"/>
<rect x="1437.42" y="815.67" width="170.18" height="19" fill="#c4c4ff"/>
<rect x="983.6" y="834.37" width="113.45" height="19" fill="#ffe1c2"/>
<rect x="1097.05" y="834.37" width="113.45" height="19" fill="#9cf03c"/>
<rect x="1210.51" y="834.37" width="113.45" height="19" fill="#ffffd9"/>
<rect x="1323.96" y="834.37" width="226.91" height="19" fill="#c4c4ff"/>
<rect x="1550.87" y="834.37" width="56.73" height="19" fill="#ffa8d8"/>
<rect x="983.6" y="853.07" width="113.45" height="19" fill="#ffe1c2"/>
<rect x="1097.05" y="853.07" width="56.73" height="19" fill="#9cf03c"/>
<rect x="1153.78" y="853.07" width="113.45" height="19" fill="#ffffd9"/>
<rect x="1267.24" y="853.07" width="226.91" height="19" fill="#c4c4ff"/>
<rect x="1494.15" y="853.07" width="113.45" height="19" fill="#ffa8d8"/>
<rect x="983.6" y="871.77" width="56.73" height="19" fill="#ffe1c2"/>
<rect x="1040.33" y="871.77" width="56.73" height="19" fill="#9cf03c"/>
<rect x="1097.05" y="871.77" width="113.45" height="19" fill="#ffffd9"/>
<rect x="1210.51" y="871.77" width="170.18" height="19" fill="#c4c4ff"/>
<rect x="1380.69" y="871.77" width="170.18" height="19" fill="#ffa8d8"/>
<rect x="1550.87" y="871.77" width="56.73" height="19" fill="#73c0fa"/>
<rect x="983.6" y="890.48" width="56.73" height="19" fill="#9cf03c"/>
<rect x="1040.33" y="890.48" width="113.45" height="19" fill="#ffffd9"/>
<rect x="1153.78" y="890.48" width="170.18" height="19" fill="#c4c4ff"/>
<rect x="1323.96" y="890.48" width="170.18" height="19" fill="#ffa8d8"/>
<rect x="1494.15" y="890.48" width="113.45" height="19" fill="#73c0fa"/>
<rect x="983.6" y="909.18" width="56.73" height="19" fill="#ffffd9"/>
<rect x="1040.33" y="909.18" width="170.18" height="19" fill="#c4c4ff"/>
<rect x="1210.51" y="909.18" width="170.18" height="19" fill="#ffa8d8"/>
<rect x="1380.69" y="909.18" width="113.45" height="19" fill="#73c0fa"/>
<rect x="1494.15" y="909.18" width="113.45" height="19" fill="#ffad75"/>
<rect x="983.6" y="927.88" width="113.45" height="19" fill="#ff94e4"/>
<rect x="1097.05" y="927.88" width="113.45" height="19" fill="#ffe1c2"/>
<rect x="1210.51" y="927.88" width="56.73" height="19" fill="#9cf03c"/>
<rect x="1267.24" y="927.88" width="113.45" height="19" fill="#ffffd9"/>
<rect x="1380.69" y="927.88" width="170.18" height="19" fill="#c4c4ff"/>
<rect x="1550.87" y="927.88" width="56.73" height="19" fill="#ffa8d8"/>
<rect x="983.6" y="946.58" width="56.73" height="19" fill="#ff94e4"/>
<rect x="1040.33" y="946.58" width="113.45" height="19" fill="#ffe1c2"/>
<rect x="1153.78" y="946.58" width="56.73" height="19" fill="#9cf03c"/>
<rect x="1210.51" y="946.58" width="113.45" height="19" fill="#ffffd9"/>
<rect x="1323.96" y="946.58" width="170.18" height="19" fill="#c4c4ff"/>
<rect x="1494.15" y="946.58" width="113.45" height="19" fill="#ffa8d8"/>
<rect x="983.6" y="965.29" width="170.18" height="19" fill="#ffe1c2"/>
<rect x="1153.78" y="965.29" width="56.73" height="19" fill="#9cf03c"/>
<rect x="1210.51" y="965.29" width="56.73" height="19" fill="#ffffd9"/>
<rect x="1267.24" y="965.29" width="170.18" height="19" fill="#c4c4ff"/>
<rect x="1437.42" y="965.29" width="170.18" height="19" fill="#ffa8d8"/>
<rect x="983.6" y="983.99" width="113.45" height="19" fill="#ffe1c2"/>
<rect x="1097.05" y="983.99" width="113.45" height="19" fill="#9cf03c"/>
<rect x="1210.51" y="983.99" width="56.73" height="19" fill="#ffffd9"/>
<rect x="1267.24" y="983.99" width="113.45" height="19" fill="#c4c4ff"/>
<rect x="1380.69" y="983.99" width="170.18" height="19" fill="#ffa8d8"/>
<rect x="1550.87" y="983.99" width="56.73" height="19" fill="#73c0fa"/>
<rect x="983.6" y="1002.69" width="56.73" height="19" fill="#ffe1c2"/>
<rect x="1040.33" y="1002.69" width="56.73" height="19" fill="#9cf03c"/>
<rect x="1097.05" y="1002.69" width="56.73" height="19" fill="#ffffd9"/>
<rect x="1153.78" y="1002.69" width="170.18" height="19" fill="#c4c4ff"/>
<rect x="1323.96" y="1002.69" width="113.45" height="19" fill="#ffa8d8"/>
<rect x="1437.42" y="1002.69" width="170.18" height="19" fill="#73c0fa"/>
<rect x="983.6" y="1021.39" width="113.45" height="19" fill="#9cf03c"/>
<rect x="1097.05" y="1021.39" width="56.73" height="19" fill="#ffffd9"/>
<rect x="1153.78" y="1021.39" width="113.45" height="19" fill="#c4c4ff"/>
<rect x="1267.24" y="1021.39" width="113.45" height="19" fill="#ffa8d8"/>
<rect x="1380.69" y="1021.39" width="170.18" height="19" fill="#73c0fa"/>
<rect x="1550.87" y="1021.39" width="56.73" height="19" fill="#ffad75"/>
<rect x="983.6" y="1040.1" width="113.45" height="19" fill="#9cf03c"/>
<rect x="1097.05" y="1040.1" width="56.73" height="19" fill="#ffffd9"/>
<rect x="1153.78" y="1040.1" width="113.45" height="19" fill="#c4c4ff"/>
<rect x="1267.24" y="1040.1" width="113.45" height="19" fill="#ffa8d8"/>
<rect x="1380.69" y="1040.1" width="113.45" height="19" fill="#73c0fa"/>
<rect x="1494.15" y="1040.1" width="113.45" height="19" fill="#ffad75"/>
<rect x="983.6" y="1058.8" width="113.45" height="19" fill="#ffffd9"/>
<rect x="1097.05" y="1058.8" width="113.45" height="19" fill="#c4c4ff"/>
<rect x="1210.51" y="1058.8" width="113.45" height="19" fill="#ffa8d8"/>
<rect x="1323.96" y="1058.8" width="170.18" height="19" fill="#73c0fa"/>
<rect x="1494.15" y="1058.8" width="113.45" height="19" fill="#ffad75"/>
<path d="M955.6 310.7H1607.6M955.6 329.4H1607.6M955.6 348.11H1607.6M955.6 366.81H1607.6M955.6 385.51H1607.6M955.6 404.21H1607.6M955.6 422.92H1607.6M955.6 441.62H1607.6M955.6 460.32H1607.6M955.6 479.02H1607.6M955.6 497.73H1607.6M955.6 535.13H1607.6M955.6 553.83H1607.6M955.6 572.54H1607.6M955.6 591.24H1607.6M955.6 609.94H1607.6M955.6 628.64H1607.6M955.6 647.35H1607.6M955.6 666.05H1607.6M955.6 684.75H1607.6M955.6 703.45H1607.6M955.6 740.86H1607.6M955.6 759.56H1607.6M955.6 778.26H1607.6M955.6 796.96H1607.6M955.6 815.67H1607.6M955.6 834.37H1607.6M955.6 853.07H1607.6M955.6 871.77H1607.6M955.6 890.48H1607.6M955.6 909.18H1607.6M955.6 946.58H1607.6M955.6 965.29H1607.6M955.6 983.99H1607.6M955.6 1002.69H1607.6M955.6 1021.39H1607.6M955.6 1040.1H1607.6M955.6 1058.8H1607.6M1011.96 273.5V1077.5M1068.69 273.5V1077.5M1125.42 273.5V1077.5M1182.15 273.5V1077.5M1238.87 273.5V1077.5M1295.6 273.5V1077.5M1352.33 273.5V1077.5M1409.05 273.5V1077.5M1465.78 273.5V1077.5M1522.51 273.5V1077.5M1579.24 273.5V1077.5M927.2 217.2V1077.5M955.6 217.2V1077.5" stroke="#2a2a2a" stroke-width="1" fill="none"/>
<path d="M983.6 235.9H1607.6M983.6 254.4H1607.6M983.6 273.5H1607.6" stroke="#333" stroke-width="1.1" fill="none"/>
<path d="M1040.33 235.9V1077.5M1097.05 235.9V1077.5M1153.78 235.9V1077.5M1210.51 235.9V1077.5M1267.24 235.9V1077.5M1323.96 235.9V1077.5M1380.69 235.9V1077.5M1437.42 235.9V1077.5M1494.15 235.9V1077.5M1550.87 235.9V1077.5M983.6 217.2V1077.5" stroke="#000" stroke-width="1.4" fill="none"/>
<path d="M898.6 516.43H1607.6M898.6 722.15H1607.6M898.6 927.88H1607.6M898.6 292H1607.6" stroke="#000" stroke-width="1.6" fill="none"/>
<rect x="898.6" y="217.2" width="709" height="860.3" stroke="#000" stroke-width="1.6" fill="none"/>
<text class="hq" x="1263.1" y="230.55">排出压力（kgf/cm²）</text>
<text class="hq" x="1013.66" y="249.35">0. 10</text>
<text class="hq" x="1013.66" y="268.15">9. 8kPa</text>
<text class="hq" x="999.58" y="285.35">Qs</text>
<text class="hq" x="1027.95" y="285.35">La</text>
<text class="hq" x="1070.12" y="249.35">0. 15</text>
<text class="hq" x="1070.12" y="268.15">14. 7kPa</text>
<text class="hq" x="1056.16" y="285.35">Qs</text>
<text class="hq" x="1084.52" y="285.35">La</text>
<text class="hq" x="1126.58" y="249.35">0. 2</text>
<text class="hq" x="1126.58" y="268.15">19. 6kPa</text>
<text class="hq" x="1112.74" y="285.35">Qs</text>
<text class="hq" x="1141.1" y="285.35">La</text>
<text class="hq" x="1183.04" y="249.35">0. 25</text>
<text class="hq" x="1183.04" y="268.15">24. 5kPa</text>
<text class="hq" x="1169.31" y="285.35">Qs</text>
<text class="hq" x="1197.68" y="285.35">La</text>
<text class="hq" x="1239.49" y="249.35">0. 3</text>
<text class="hq" x="1239.49" y="268.15">29. 4kPa</text>
<text class="hq" x="1225.89" y="285.35">Qs</text>
<text class="hq" x="1254.25" y="285.35">La</text>
<text class="hq" x="1295.95" y="249.35">0. 35</text>
<text class="hq" x="1295.95" y="268.15">34. 3kPa</text>
<text class="hq" x="1282.47" y="285.35">Qs</text>
<text class="hq" x="1310.83" y="285.35">La</text>
<text class="hq" x="1352.41" y="249.35">0. 4</text>
<text class="hq" x="1352.41" y="268.15">39. 2kPa</text>
<text class="hq" x="1339.05" y="285.35">Qs</text>
<text class="hq" x="1367.41" y="285.35">La</text>
<text class="hq" x="1408.86" y="249.35">0. 45</text>
<text class="hq" x="1408.86" y="268.15">44. 1kPa</text>
<text class="hq" x="1395.62" y="285.35">Qs</text>
<text class="hq" x="1423.99" y="285.35">La</text>
<text class="hq" x="1465.32" y="249.35">0. 5</text>
<text class="hq" x="1465.32" y="268.15">49kPa</text>
<text class="hq" x="1452.2" y="285.35">Qs</text>
<text class="hq" x="1480.56" y="285.35">La</text>
<text class="hq" x="1521.78" y="249.35">0. 55</text>
<text class="hq" x="1521.78" y="268.15">53. 9kPa</text>
<text class="hq" x="1508.78" y="285.35">Qs</text>
<text class="hq" x="1537.14" y="285.35">La</text>
<text class="hq" x="1578.24" y="249.35">0. 6</text>
<text class="hq" x="1578.24" y="268.15">58. 8kPa</text>
<text class="hq" x="1565.35" y="285.35">Qs</text>
<text class="hq" x="1593.72" y="285.35">La</text>
<text class="hq" x="912.7" y="253.4">型式</text>
<text class="hf" x="912.7" y="266.5">Type</text>
<text class="hq" x="942.1" y="253.4">口径</text>
<text class="hf" x="942.1" y="266.5">Bore</text>
<text class="hq" x="969.4" y="253.4">转速</text>
<text class="hf" x="969.4" y="266.5">rpm</text>
<text class="mr" x="912.7" y="401.33" textLength="15.7" lengthAdjust="spacingAndGlyphs">JGR</text>
<text class="mr" x="912.7" y="414.83" textLength="15.7" lengthAdjust="spacingAndGlyphs">100</text>
<text class="mr" x="940.9" y="399.98" textLength="21.2" lengthAdjust="spacingAndGlyphs">100A</text>
<text class="dr" x="969" y="306.32">1060</text>
<text class="dr" x="997.18" y="306.32">4.57</text>
<text class="dr" x="1025.55" y="306.32">1.35</text>
<text class="dr" x="1053.91" y="306.32">4.42</text>
<text class="dr" x="1082.27" y="306.32">1.83</text>
<text class="dr" x="1110.64" y="306.32">4.26</text>
<text class="dr" x="1139" y="306.32">2.25</text>
<text class="dr" x="1167.36" y="306.32">4.07</text>
<text class="dr" x="1195.73" y="306.32">2.72</text>
<text class="dr" x="1224.09" y="306.32">3.93</text>
<text class="dr" x="1252.45" y="306.32">3.12</text>
<text class="dr" x="1280.82" y="306.32">3.84</text>
<text class="dr" x="1309.18" y="306.32">3.55</text>
<text class="dr" x="1337.55" y="306.32">3.72</text>
<text class="dr" x="1365.91" y="306.32">4.02</text>
<text class="dr" x="1394.27" y="306.32">3.57</text>
<text class="dr" x="1422.64" y="306.32">4.46</text>
<text class="dr" x="1451" y="306.32">3.46</text>
<text class="dr" x="1479.36" y="306.32">4.97</text>
<text class="dr" x="1507.73" y="306.32">3.35</text>
<text class="dr" x="1536.09" y="306.32">5.42</text>
<text class="dr" x="1564.45" y="306.32">3.25</text>
<text class="dr" x="1592.82" y="306.32">5.85</text>
<text class="dr" x="969" y="325.02">1140</text>
<text class="dr" x="997.18" y="325.02">4.98</text>
<text class="dr" x="1025.55" y="325.02">1.53</text>
<text class="dr" x="1053.91" y="325.02">4.82</text>
<text class="dr" x="1082.27" y="325.02">2.03</text>
<text class="dr" x="1110.64" y="325.02">4.67</text>
<text class="dr" x="1139" y="325.02">2.44</text>
<text class="dr" x="1167.36" y="325.02">4.52</text>
<text class="dr" x="1195.73" y="325.02">2.94</text>
<text class="dr" x="1224.09" y="325.02">4.38</text>
<text class="dr" x="1252.45" y="325.02">3.43</text>
<text class="dr" x="1280.82" y="325.02">4.25</text>
<text class="dr" x="1309.18" y="325.02">3.93</text>
<text class="dr" x="1337.55" y="325.02">4.14</text>
<text class="dr" x="1365.91" y="325.02">4.35</text>
<text class="dr" x="1394.27" y="325.02">4.03</text>
<text class="dr" x="1422.64" y="325.02">4.86</text>
<text class="dr" x="1451" y="325.02">3.92</text>
<text class="dr" x="1479.36" y="325.02">5.35</text>
<text class="dr" x="1507.73" y="325.02">3.83</text>
<text class="dr" x="1536.09" y="325.02">5.85</text>
<text class="dr" x="1564.45" y="325.02">3.73</text>
<text class="dr" x="1592.82" y="325.02">6.35</text>
<text class="dr" x="969" y="343.72">1220</text>
<text class="dr" x="997.18" y="343.72">5.36</text>
<text class="dr" x="1025.55" y="343.72">1.69</text>
<text class="dr" x="1053.91" y="343.72">5.15</text>
<text class="dr" x="1082.27" y="343.72">2.22</text>
<text class="dr" x="1110.64" y="343.72">5.01</text>
<text class="dr" x="1139" y="343.72">2.72</text>
<text class="dr" x="1167.36" y="343.72">4.87</text>
<text class="dr" x="1195.73" y="343.72">3.23</text>
<text class="dr" x="1224.09" y="343.72">4.75</text>
<text class="dr" x="1252.45" y="343.72">3.73</text>
<text class="dr" x="1280.82" y="343.72">4.63</text>
<text class="dr" x="1309.18" y="343.72">4.22</text>
<text class="dr" x="1337.55" y="343.72">4.55</text>
<text class="dr" x="1365.91" y="343.72">4.74</text>
<text class="dr" x="1394.27" y="343.72">4.44</text>
<text class="dr" x="1422.64" y="343.72">5.27</text>
<text class="dr" x="1451" y="343.72">4.35</text>
<text class="dr" x="1479.36" y="343.72">5.78</text>
<text class="dr" x="1507.73" y="343.72">4.25</text>
<text class="dr" x="1536.09" y="343.72">6.35</text>
<text class="dr" x="1564.45" y="343.72">4.15</text>
<text class="dr" x="1592.82" y="343.72">6.92</text>
<text class="dr" x="969" y="362.42">1310</text>
<text class="dr" x="997.18" y="362.42">5.75</text>
<text class="dr" x="1025.55" y="362.42">1.88</text>
<text class="dr" x="1053.91" y="362.42">5.60</text>
<text class="dr" x="1082.27" y="362.42">2.43</text>
<text class="dr" x="1110.64" y="362.42">5.46</text>
<text class="dr" x="1139" y="362.42">2.94</text>
<text class="dr" x="1167.36" y="362.42">5.34</text>
<text class="dr" x="1195.73" y="362.42">3.52</text>
<text class="dr" x="1224.09" y="362.42">5.15</text>
<text class="dr" x="1252.45" y="362.42">4.03</text>
<text class="dr" x="1280.82" y="362.42">5.05</text>
<text class="dr" x="1309.18" y="362.42">4.63</text>
<text class="dr" x="1337.55" y="362.42">4.93</text>
<text class="dr" x="1365.91" y="362.42">5.16</text>
<text class="dr" x="1394.27" y="362.42">4.86</text>
<text class="dr" x="1422.64" y="362.42">5.77</text>
<text class="dr" x="1451" y="362.42">4.73</text>
<text class="dr" x="1479.36" y="362.42">6.33</text>
<text class="dr" x="1507.73" y="362.42">4.66</text>
<text class="dr" x="1536.09" y="362.42">6.95</text>
<text class="dr" x="1564.45" y="362.42">4.53</text>
<text class="dr" x="1592.82" y="362.42">7.45</text>
<text class="dr" x="969" y="381.13">1460</text>
<text class="sr" x="947.5" y="380.36">★</text>
<text class="dr" x="997.18" y="381.13">6.52</text>
<text class="dr" x="1025.55" y="381.13">2.18</text>
<text class="dr" x="1053.91" y="381.13">6.35</text>
<text class="dr" x="1082.27" y="381.13">2.75</text>
<text class="dr" x="1110.64" y="381.13">6.27</text>
<text class="dr" x="1139" y="381.13">3.42</text>
<text class="dr" x="1167.36" y="381.13">6.13</text>
<text class="dr" x="1195.73" y="381.13">3.95</text>
<text class="dr" x="1224.09" y="381.13">6.02</text>
<text class="dr" x="1252.45" y="381.13">4.64</text>
<text class="dr" x="1280.82" y="381.13">5.87</text>
<text class="dr" x="1309.18" y="381.13">5.22</text>
<text class="dr" x="1337.55" y="381.13">5.75</text>
<text class="dr" x="1365.91" y="381.13">5.85</text>
<text class="dr" x="1394.27" y="381.13">5.66</text>
<text class="dr" x="1422.64" y="381.13">6.54</text>
<text class="dr" x="1451" y="381.13">5.56</text>
<text class="dr" x="1479.36" y="381.13">7.13</text>
<text class="dr" x="1507.73" y="381.13">5.45</text>
<text class="dr" x="1536.09" y="381.13">7.76</text>
<text class="dr" x="1564.45" y="381.13">5.36</text>
<text class="dr" x="1592.82" y="381.13">8.43</text>
<text class="dr" x="969" y="399.83">1540</text>
<text class="dr" x="997.18" y="399.83">6.91</text>
<text class="dr" x="1025.55" y="399.83">2.40</text>
<text class="dr" x="1053.91" y="399.83">6.79</text>
<text class="dr" x="1082.27" y="399.83">3.04</text>
<text class="dr" x="1110.64" y="399.83">6.63</text>
<text class="dr" x="1139" y="399.83">3.66</text>
<text class="dr" x="1167.36" y="399.83">6.55</text>
<text class="dr" x="1195.73" y="399.83">4.32</text>
<text class="dr" x="1224.09" y="399.83">6.42</text>
<text class="dr" x="1252.45" y="399.83">4.95</text>
<text class="dr" x="1280.82" y="399.83">6.30</text>
<text class="dr" x="1309.18" y="399.83">5.65</text>
<text class="dr" x="1337.55" y="399.83">6.17</text>
<text class="dr" x="1365.91" y="399.83">6.32</text>
<text class="dr" x="1394.27" y="399.83">6.07</text>
<text class="dr" x="1422.64" y="399.83">6.97</text>
<text class="dr" x="1451" y="399.83">5.97</text>
<text class="dr" x="1479.36" y="399.83">7.64</text>
<text class="dr" x="1507.73" y="399.83">5.89</text>
<text class="dr" x="1536.09" y="399.83">8.35</text>
<text class="dr" x="1564.45" y="399.83">5.78</text>
<text class="dr" x="1592.82" y="399.83">9.02</text>
<text class="dr" x="969" y="418.53">1680</text>
<text class="dr" x="997.18" y="418.53">7.63</text>
<text class="dr" x="1025.55" y="418.53">2.78</text>
<text class="dr" x="1053.91" y="418.53">7.47</text>
<text class="dr" x="1082.27" y="418.53">3.45</text>
<text class="dr" x="1110.64" y="418.53">7.39</text>
<text class="dr" x="1139" y="418.53">4.15</text>
<text class="dr" x="1167.36" y="418.53">7.26</text>
<text class="dr" x="1195.73" y="418.53">4.92</text>
<text class="dr" x="1224.09" y="418.53">7.15</text>
<text class="dr" x="1252.45" y="418.53">5.64</text>
<text class="dr" x="1280.82" y="418.53">7.04</text>
<text class="dr" x="1309.18" y="418.53">6.33</text>
<text class="dr" x="1337.55" y="418.53">6.90</text>
<text class="dr" x="1365.91" y="418.53">7.10</text>
<text class="dr" x="1394.27" y="418.53">6.84</text>
<text class="dr" x="1422.64" y="418.53">7.85</text>
<text class="dr" x="1451" y="418.53">6.71</text>
<text class="dr" x="1479.36" y="418.53">8.53</text>
<text class="dr" x="1507.73" y="418.53">6.65</text>
<text class="dr" x="1536.09" y="418.53">9.32</text>
<text class="dr" x="1564.45" y="418.53">6.53</text>
<text class="dr" x="1592.82" y="418.53">10.05</text>
<text class="dr" x="969" y="437.23">1780</text>
<text class="dr" x="997.18" y="437.23">8.02</text>
<text class="dr" x="1025.55" y="437.23">3.08</text>
<text class="dr" x="1053.91" y="437.23">7.94</text>
<text class="dr" x="1082.27" y="437.23">3.83</text>
<text class="dr" x="1110.64" y="437.23">7.86</text>
<text class="dr" x="1139" y="437.23">4.58</text>
<text class="dr" x="1167.36" y="437.23">7.75</text>
<text class="dr" x="1195.73" y="437.23">5.35</text>
<text class="dr" x="1224.09" y="437.23">7.64</text>
<text class="dr" x="1252.45" y="437.23">6.13</text>
<text class="dr" x="1280.82" y="437.23">7.54</text>
<text class="dr" x="1309.18" y="437.23">6.84</text>
<text class="dr" x="1337.55" y="437.23">7.44</text>
<text class="dr" x="1365.91" y="437.23">7.65</text>
<text class="dr" x="1394.27" y="437.23">7.34</text>
<text class="dr" x="1422.64" y="437.23">8.45</text>
<text class="dr" x="1451" y="437.23">7.25</text>
<text class="dr" x="1479.36" y="437.23">9.13</text>
<text class="dr" x="1507.73" y="437.23">7.16</text>
<text class="dr" x="1536.09" y="437.23">9.95</text>
<text class="dr" x="1564.45" y="437.23">7.04</text>
<text class="dr" x="1592.82" y="437.23">10.73</text>
<text class="dr" x="969" y="455.94">1880</text>
<text class="dr" x="997.18" y="455.94">8.51</text>
<text class="dr" x="1025.55" y="455.94">3.35</text>
<text class="dr" x="1053.91" y="455.94">8.43</text>
<text class="dr" x="1082.27" y="455.94">4.15</text>
<text class="dr" x="1110.64" y="455.94">8.35</text>
<text class="dr" x="1139" y="455.94">4.95</text>
<text class="dr" x="1167.36" y="455.94">8.23</text>
<text class="dr" x="1195.73" y="455.94">5.77</text>
<text class="dr" x="1224.09" y="455.94">8.13</text>
<text class="dr" x="1252.45" y="455.94">6.57</text>
<text class="dr" x="1280.82" y="455.94">8.03</text>
<text class="dr" x="1309.18" y="455.94">7.35</text>
<text class="dr" x="1337.55" y="455.94">7.93</text>
<text class="dr" x="1365.91" y="455.94">8.16</text>
<text class="dr" x="1394.27" y="455.94">7.88</text>
<text class="dr" x="1422.64" y="455.94">9.03</text>
<text class="dr" x="1451" y="455.94">7.75</text>
<text class="dr" x="1479.36" y="455.94">9.83</text>
<text class="dr" x="1507.73" y="455.94">7.65</text>
<text class="dr" x="1536.09" y="455.94">10.64</text>
<text class="dr" x="1564.45" y="455.94">7.62</text>
<text class="dr" x="1592.82" y="455.94">11.45</text>
<text class="dr" x="969" y="474.64">1980</text>
<text class="dr" x="997.18" y="474.64">9.01</text>
<text class="dr" x="1025.55" y="474.64">3.54</text>
<text class="dr" x="1053.91" y="474.64">8.94</text>
<text class="dr" x="1082.27" y="474.64">4.44</text>
<text class="dr" x="1110.64" y="474.64">8.87</text>
<text class="dr" x="1139" y="474.64">5.34</text>
<text class="dr" x="1167.36" y="474.64">8.73</text>
<text class="dr" x="1195.73" y="474.64">6.15</text>
<text class="dr" x="1224.09" y="474.64">8.67</text>
<text class="dr" x="1252.45" y="474.64">7.03</text>
<text class="dr" x="1280.82" y="474.64">8.52</text>
<text class="dr" x="1309.18" y="474.64">7.92</text>
<text class="dr" x="1337.55" y="474.64">8.44</text>
<text class="dr" x="1365.91" y="474.64">8.73</text>
<text class="dr" x="1394.27" y="474.64">8.39</text>
<text class="dr" x="1422.64" y="474.64">9.65</text>
<text class="dr" x="1451" y="474.64">8.26</text>
<text class="dr" x="1479.36" y="474.64">10.42</text>
<text class="dr" x="1507.73" y="474.64">8.22</text>
<text class="dr" x="1536.09" y="474.64">11.32</text>
<text class="dr" x="1564.45" y="474.64">8.15</text>
<text class="dr" x="1592.82" y="474.64">12.15</text>
<text class="dr" x="969" y="493.34">2100</text>
<text class="dr" x="997.18" y="493.34">9.62</text>
<text class="dr" x="1025.55" y="493.34">4.89</text>
<text class="dr" x="1053.91" y="493.34">9.53</text>
<text class="dr" x="1082.27" y="493.34">5.50</text>
<text class="dr" x="1110.64" y="493.34">9.44</text>
<text class="dr" x="1139" y="493.34">6.11</text>
<text class="dr" x="1167.36" y="493.34">9.35</text>
<text class="dr" x="1195.73" y="493.34">6.79</text>
<text class="dr" x="1224.09" y="493.34">9.25</text>
<text class="dr" x="1252.45" y="493.34">7.55</text>
<text class="dr" x="1280.82" y="493.34">9.16</text>
<text class="dr" x="1309.18" y="493.34">8.40</text>
<text class="dr" x="1337.55" y="493.34">9.07</text>
<text class="dr" x="1365.91" y="493.34">9.35</text>
<text class="dr" x="1394.27" y="493.34">8.98</text>
<text class="dr" x="1422.64" y="493.34">10.23</text>
<text class="dr" x="1451" y="493.34">8.88</text>
<text class="dr" x="1479.36" y="493.34">11.12</text>
<text class="dr" x="1507.73" y="493.34">8.79</text>
<text class="dr" x="1536.09" y="493.34">12.00</text>
<text class="dr" x="1564.45" y="493.34">8.73</text>
<text class="dr" x="1592.82" y="493.34">12.95</text>
<text class="dr" x="969" y="512.04">2200</text>
<text class="dr" x="997.18" y="512.04">10.22</text>
<text class="dr" x="1025.55" y="512.04">5.47</text>
<text class="dr" x="1053.91" y="512.04">10.13</text>
<text class="dr" x="1082.27" y="512.04">5.86</text>
<text class="dr" x="1110.64" y="512.04">10.04</text>
<text class="dr" x="1139" y="512.04">6.25</text>
<text class="dr" x="1167.36" y="512.04">9.94</text>
<text class="dr" x="1195.73" y="512.04">7.24</text>
<text class="dr" x="1224.09" y="512.04">9.83</text>
<text class="dr" x="1252.45" y="512.04">8.05</text>
<text class="dr" x="1280.82" y="512.04">9.74</text>
<text class="dr" x="1309.18" y="512.04">8.94</text>
<text class="dr" x="1337.55" y="512.04">9.64</text>
<text class="dr" x="1365.91" y="512.04">9.94</text>
<text class="dr" x="1394.27" y="512.04">9.55</text>
<text class="dr" x="1422.64" y="512.04">10.71</text>
<text class="dr" x="1451" y="512.04">9.45</text>
<text class="dr" x="1479.36" y="512.04">11.75</text>
<text class="dr" x="1507.73" y="512.04">9.35</text>
<text class="dr" x="1536.09" y="512.04">12.57</text>
<text class="dr" x="1564.45" y="512.04">9.25</text>
<text class="dr" x="1592.82" y="512.04">13.60</text>
<text class="mr" x="912.7" y="609.03" textLength="15.7" lengthAdjust="spacingAndGlyphs">JGR</text>
<text class="mr" x="912.7" y="622.53" textLength="15.7" lengthAdjust="spacingAndGlyphs">125</text>
<text class="mr" x="940.9" y="609.48" textLength="21.2" lengthAdjust="spacingAndGlyphs">125A</text>
<text class="dr" x="969" y="530.75">980</text>
<text class="sr" x="947.5" y="529.98">★</text>
<text class="dr" x="997.18" y="530.75">6.50</text>
<text class="dr" x="1025.55" y="530.75">1.65</text>
<text class="dr" x="1053.91" y="530.75">6.32</text>
<text class="dr" x="1082.27" y="530.75">2.25</text>
<text class="dr" x="1110.64" y="530.75">6.13</text>
<text class="dr" x="1139" y="530.75">2.83</text>
<text class="dr" x="1167.36" y="530.75">6.03</text>
<text class="dr" x="1195.73" y="530.75">3.42</text>
<text class="dr" x="1224.09" y="530.75">5.93</text>
<text class="dr" x="1252.45" y="530.75">4.12</text>
<text class="dr" x="1280.82" y="530.75">5.80</text>
<text class="dr" x="1309.18" y="530.75">4.73</text>
<text class="dr" x="1337.55" y="530.75">5.73</text>
<text class="dr" x="1365.91" y="530.75">5.42</text>
<text class="dr" x="1394.27" y="530.75">5.62</text>
<text class="dr" x="1422.64" y="530.75">6.13</text>
<text class="dr" x="1451" y="530.75">5.58</text>
<text class="dr" x="1479.36" y="530.75">6.72</text>
<text class="dr" x="1507.73" y="530.75">5.45</text>
<text class="dr" x="1536.09" y="530.75">7.22</text>
<text class="dr" x="1564.45" y="530.75">5.35</text>
<text class="dr" x="1592.82" y="530.75">8.03</text>
<text class="dr" x="969" y="549.45">1050</text>
<text class="dr" x="997.18" y="549.45">6.95</text>
<text class="dr" x="1025.55" y="549.45">1.90</text>
<text class="dr" x="1053.91" y="549.45">6.75</text>
<text class="dr" x="1082.27" y="549.45">2.53</text>
<text class="dr" x="1110.64" y="549.45">6.65</text>
<text class="dr" x="1139" y="549.45">3.13</text>
<text class="dr" x="1167.36" y="549.45">6.52</text>
<text class="dr" x="1195.73" y="549.45">3.83</text>
<text class="dr" x="1224.09" y="549.45">6.45</text>
<text class="dr" x="1252.45" y="549.45">4.55</text>
<text class="dr" x="1280.82" y="549.45">6.32</text>
<text class="dr" x="1309.18" y="549.45">5.22</text>
<text class="dr" x="1337.55" y="549.45">6.20</text>
<text class="dr" x="1365.91" y="549.45">5.93</text>
<text class="dr" x="1394.27" y="549.45">6.13</text>
<text class="dr" x="1422.64" y="549.45">6.63</text>
<text class="dr" x="1451" y="549.45">6.05</text>
<text class="dr" x="1479.36" y="549.45">7.32</text>
<text class="dr" x="1507.73" y="549.45">5.93</text>
<text class="dr" x="1536.09" y="549.45">7.93</text>
<text class="dr" x="1564.45" y="549.45">5.83</text>
<text class="dr" x="1592.82" y="549.45">8.73</text>
<text class="dr" x="969" y="568.15">1200</text>
<text class="dr" x="997.18" y="568.15">8.00</text>
<text class="dr" x="1025.55" y="568.15">2.50</text>
<text class="dr" x="1053.91" y="568.15">7.82</text>
<text class="dr" x="1082.27" y="568.15">3.22</text>
<text class="dr" x="1110.64" y="568.15">7.67</text>
<text class="dr" x="1139" y="568.15">3.95</text>
<text class="dr" x="1167.36" y="568.15">7.53</text>
<text class="dr" x="1195.73" y="568.15">4.72</text>
<text class="dr" x="1224.09" y="568.15">7.43</text>
<text class="dr" x="1252.45" y="568.15">5.52</text>
<text class="dr" x="1280.82" y="568.15">7.32</text>
<text class="dr" x="1309.18" y="568.15">6.25</text>
<text class="dr" x="1337.55" y="568.15">7.23</text>
<text class="dr" x="1365.91" y="568.15">7.13</text>
<text class="dr" x="1394.27" y="568.15">7.12</text>
<text class="dr" x="1422.64" y="568.15">7.92</text>
<text class="dr" x="1451" y="568.15">7.02</text>
<text class="dr" x="1479.36" y="568.15">8.63</text>
<text class="dr" x="1507.73" y="568.15">6.95</text>
<text class="dr" x="1536.09" y="568.15">9.43</text>
<text class="dr" x="1564.45" y="568.15">6.85</text>
<text class="dr" x="1592.82" y="568.15">10.23</text>
<text class="dr" x="969" y="586.85">1310</text>
<text class="dr" x="997.18" y="586.85">8.75</text>
<text class="dr" x="1025.55" y="586.85">2.90</text>
<text class="dr" x="1053.91" y="586.85">8.53</text>
<text class="dr" x="1082.27" y="586.85">3.63</text>
<text class="dr" x="1110.64" y="586.85">8.42</text>
<text class="dr" x="1139" y="586.85">4.53</text>
<text class="dr" x="1167.36" y="586.85">8.25</text>
<text class="dr" x="1195.73" y="586.85">5.33</text>
<text class="dr" x="1224.09" y="586.85">8.17</text>
<text class="dr" x="1252.45" y="586.85">6.23</text>
<text class="dr" x="1280.82" y="586.85">8.07</text>
<text class="dr" x="1309.18" y="586.85">7.03</text>
<text class="dr" x="1337.55" y="586.85">8.02</text>
<text class="dr" x="1365.91" y="586.85">7.92</text>
<text class="dr" x="1394.27" y="586.85">7.93</text>
<text class="dr" x="1422.64" y="586.85">8.83</text>
<text class="dr" x="1451" y="586.85">7.84</text>
<text class="dr" x="1479.36" y="586.85">9.62</text>
<text class="dr" x="1507.73" y="586.85">7.76</text>
<text class="dr" x="1536.09" y="586.85">10.03</text>
<text class="dr" x="1564.45" y="586.85">7.66</text>
<text class="dr" x="1592.82" y="586.85">11.42</text>
<text class="dr" x="969" y="605.56">1390</text>
<text class="dr" x="997.18" y="605.56">9.30</text>
<text class="dr" x="1025.55" y="605.56">3.20</text>
<text class="dr" x="1053.91" y="605.56">9.12</text>
<text class="dr" x="1082.27" y="605.56">4.02</text>
<text class="dr" x="1110.64" y="605.56">8.93</text>
<text class="dr" x="1139" y="605.56">4.92</text>
<text class="dr" x="1167.36" y="605.56">8.85</text>
<text class="dr" x="1195.73" y="605.56">5.82</text>
<text class="dr" x="1224.09" y="605.56">8.72</text>
<text class="dr" x="1252.45" y="605.56">6.72</text>
<text class="dr" x="1280.82" y="605.56">8.65</text>
<text class="dr" x="1309.18" y="605.56">7.62</text>
<text class="dr" x="1337.55" y="605.56">8.52</text>
<text class="dr" x="1365.91" y="605.56">8.52</text>
<text class="dr" x="1394.27" y="605.56">8.42</text>
<text class="dr" x="1422.64" y="605.56">9.42</text>
<text class="dr" x="1451" y="605.56">8.35</text>
<text class="dr" x="1479.36" y="605.56">10.33</text>
<text class="dr" x="1507.73" y="605.56">8.25</text>
<text class="dr" x="1536.09" y="605.56">11.27</text>
<text class="dr" x="1564.45" y="605.56">8.22</text>
<text class="dr" x="1592.82" y="605.56">12.23</text>
<text class="dr" x="969" y="624.26">1460</text>
<text class="sr" x="947.5" y="623.49">★</text>
<text class="dr" x="997.18" y="624.26">9.72</text>
<text class="dr" x="1025.55" y="624.26">3.45</text>
<text class="dr" x="1053.91" y="624.26">9.48</text>
<text class="dr" x="1082.27" y="624.26">4.23</text>
<text class="dr" x="1110.64" y="624.26">9.33</text>
<text class="dr" x="1139" y="624.26">5.22</text>
<text class="dr" x="1167.36" y="624.26">9.23</text>
<text class="dr" x="1195.73" y="624.26">6.13</text>
<text class="dr" x="1224.09" y="624.26">9.13</text>
<text class="dr" x="1252.45" y="624.26">7.13</text>
<text class="dr" x="1280.82" y="624.26">9.03</text>
<text class="dr" x="1309.18" y="624.26">8.03</text>
<text class="dr" x="1337.55" y="624.26">8.93</text>
<text class="dr" x="1365.91" y="624.26">9.02</text>
<text class="dr" x="1394.27" y="624.26">8.82</text>
<text class="dr" x="1422.64" y="624.26">9.93</text>
<text class="dr" x="1451" y="624.26">8.75</text>
<text class="dr" x="1479.36" y="624.26">10.92</text>
<text class="dr" x="1507.73" y="624.26">8.73</text>
<text class="dr" x="1536.09" y="624.26">11.82</text>
<text class="dr" x="1564.45" y="624.26">8.63</text>
<text class="dr" x="1592.82" y="624.26">12.83</text>
<text class="dr" x="969" y="642.96">1530</text>
<text class="dr" x="997.18" y="642.96">10.27</text>
<text class="dr" x="1025.55" y="642.96">3.80</text>
<text class="dr" x="1053.91" y="642.96">10.09</text>
<text class="dr" x="1082.27" y="642.96">4.72</text>
<text class="dr" x="1110.64" y="642.96">9.92</text>
<text class="dr" x="1139" y="642.96">5.63</text>
<text class="dr" x="1167.36" y="642.96">9.82</text>
<text class="dr" x="1195.73" y="642.96">6.63</text>
<text class="dr" x="1224.09" y="642.96">9.72</text>
<text class="dr" x="1252.45" y="642.96">7.62</text>
<text class="dr" x="1280.82" y="642.96">9.62</text>
<text class="dr" x="1309.18" y="642.96">8.62</text>
<text class="dr" x="1337.55" y="642.96">9.52</text>
<text class="dr" x="1365.91" y="642.96">9.62</text>
<text class="dr" x="1394.27" y="642.96">9.43</text>
<text class="dr" x="1422.64" y="642.96">10.62</text>
<text class="dr" x="1451" y="642.96">9.35</text>
<text class="dr" x="1479.36" y="642.96">11.63</text>
<text class="dr" x="1507.73" y="642.96">9.23</text>
<text class="dr" x="1536.09" y="642.96">12.63</text>
<text class="dr" x="1564.45" y="642.96">9.13</text>
<text class="dr" x="1592.82" y="642.96">13.62</text>
<text class="dr" x="969" y="661.66">1630</text>
<text class="dr" x="997.18" y="661.66">10.96</text>
<text class="dr" x="1025.55" y="661.66">4.30</text>
<text class="dr" x="1053.91" y="661.66">10.73</text>
<text class="dr" x="1082.27" y="661.66">5.23</text>
<text class="dr" x="1110.64" y="661.66">10.55</text>
<text class="dr" x="1139" y="661.66">6.23</text>
<text class="dr" x="1167.36" y="661.66">10.45</text>
<text class="dr" x="1195.73" y="661.66">7.23</text>
<text class="dr" x="1224.09" y="661.66">10.35</text>
<text class="dr" x="1252.45" y="661.66">8.33</text>
<text class="dr" x="1280.82" y="661.66">10.25</text>
<text class="dr" x="1309.18" y="661.66">9.33</text>
<text class="dr" x="1337.55" y="661.66">10.15</text>
<text class="dr" x="1365.91" y="661.66">10.33</text>
<text class="dr" x="1394.27" y="661.66">10.05</text>
<text class="dr" x="1422.64" y="661.66">11.33</text>
<text class="dr" x="1451" y="661.66">10.03</text>
<text class="dr" x="1479.36" y="661.66">12.43</text>
<text class="dr" x="1507.73" y="661.66">9.95</text>
<text class="dr" x="1536.09" y="661.66">13.53</text>
<text class="dr" x="1564.45" y="661.66">9.83</text>
<text class="dr" x="1592.82" y="661.66">14.62</text>
<text class="dr" x="969" y="680.36">1750</text>
<text class="dr" x="997.18" y="680.36">11.69</text>
<text class="dr" x="1025.55" y="680.36">4.71</text>
<text class="dr" x="1053.91" y="680.36">11.52</text>
<text class="dr" x="1082.27" y="680.36">5.82</text>
<text class="dr" x="1110.64" y="680.36">11.35</text>
<text class="dr" x="1139" y="680.36">6.93</text>
<text class="dr" x="1167.36" y="680.36">11.27</text>
<text class="dr" x="1195.73" y="680.36">7.93</text>
<text class="dr" x="1224.09" y="680.36">11.15</text>
<text class="dr" x="1252.45" y="680.36">9.15</text>
<text class="dr" x="1280.82" y="680.36">11.07</text>
<text class="dr" x="1309.18" y="680.36">10.22</text>
<text class="dr" x="1337.55" y="680.36">10.97</text>
<text class="dr" x="1365.91" y="680.36">11.24</text>
<text class="dr" x="1394.27" y="680.36">10.93</text>
<text class="dr" x="1422.64" y="680.36">12.35</text>
<text class="dr" x="1451" y="680.36">10.85</text>
<text class="dr" x="1479.36" y="680.36">13.35</text>
<text class="dr" x="1507.73" y="680.36">10.73</text>
<text class="dr" x="1536.09" y="680.36">14.72</text>
<text class="dr" x="1564.45" y="680.36">10.64</text>
<text class="dr" x="1592.82" y="680.36">15.82</text>
<text class="dr" x="969" y="699.07">1850</text>
<text class="dr" x="997.18" y="699.07">12.39</text>
<text class="dr" x="1025.55" y="699.07">5.19</text>
<text class="dr" x="1053.91" y="699.07">12.23</text>
<text class="dr" x="1082.27" y="699.07">6.36</text>
<text class="dr" x="1110.64" y="699.07">12.07</text>
<text class="dr" x="1139" y="699.07">7.53</text>
<text class="dr" x="1167.36" y="699.07">11.95</text>
<text class="dr" x="1195.73" y="699.07">8.55</text>
<text class="dr" x="1224.09" y="699.07">11.85</text>
<text class="dr" x="1252.45" y="699.07">9.85</text>
<text class="dr" x="1280.82" y="699.07">11.72</text>
<text class="dr" x="1309.18" y="699.07">10.92</text>
<text class="dr" x="1337.55" y="699.07">11.63</text>
<text class="dr" x="1365.91" y="699.07">12.04</text>
<text class="dr" x="1394.27" y="699.07">11.55</text>
<text class="dr" x="1422.64" y="699.07">13.15</text>
<text class="dr" x="1451" y="699.07">11.52</text>
<text class="dr" x="1479.36" y="699.07">14.22</text>
<text class="dr" x="1507.73" y="699.07">11.45</text>
<text class="dr" x="1536.09" y="699.07">15.62</text>
<text class="dr" x="1564.45" y="699.07">11.33</text>
<text class="dr" x="1592.82" y="699.07">16.83</text>
<text class="dr" x="969" y="717.77">2000</text>
<text class="dr" x="997.18" y="717.77">13.39</text>
<text class="dr" x="1025.55" y="717.77">7.17</text>
<text class="dr" x="1053.91" y="717.77">13.22</text>
<text class="dr" x="1082.27" y="717.77">8.07</text>
<text class="dr" x="1110.64" y="717.77">13.05</text>
<text class="dr" x="1139" y="717.77">8.97</text>
<text class="dr" x="1167.36" y="717.77">12.91</text>
<text class="dr" x="1195.73" y="717.77">9.96</text>
<text class="dr" x="1224.09" y="717.77">12.83</text>
<text class="dr" x="1252.45" y="717.77">11.07</text>
<text class="dr" x="1280.82" y="717.77">12.71</text>
<text class="dr" x="1309.18" y="717.77">12.26</text>
<text class="dr" x="1337.55" y="717.77">12.64</text>
<text class="dr" x="1365.91" y="717.77">13.62</text>
<text class="dr" x="1394.27" y="717.77">12.58</text>
<text class="dr" x="1422.64" y="717.77">14.96</text>
<text class="dr" x="1451" y="717.77">12.53</text>
<text class="dr" x="1479.36" y="717.77">16.23</text>
<text class="dr" x="1507.73" y="717.77">12.44</text>
<text class="dr" x="1536.09" y="717.77">17.42</text>
<text class="dr" x="1564.45" y="717.77">12.35</text>
<text class="dr" x="1592.82" y="717.77">18.74</text>
<text class="mr" x="912.7" y="819.53" textLength="15.7" lengthAdjust="spacingAndGlyphs">JGR</text>
<text class="mr" x="912.7" y="833.03" textLength="15.7" lengthAdjust="spacingAndGlyphs">150</text>
<text class="mr" x="940.9" y="820.48" textLength="21.2" lengthAdjust="spacingAndGlyphs">150A</text>
<text class="dr" x="969" y="736.47">810</text>
<text class="dr" x="997.18" y="736.47">12.00</text>
<text class="dr" x="1025.55" y="736.47">3.84</text>
<text class="dr" x="1053.91" y="736.47">11.74</text>
<text class="dr" x="1082.27" y="736.47">5.03</text>
<text class="dr" x="1110.64" y="736.47">11.52</text>
<text class="dr" x="1139" y="736.47">6.23</text>
<text class="dr" x="1167.36" y="736.47">11.33</text>
<text class="dr" x="1195.73" y="736.47">7.32</text>
<text class="dr" x="1224.09" y="736.47">11.13</text>
<text class="dr" x="1252.45" y="736.47">8.52</text>
<text class="dr" x="1280.82" y="736.47">11.02</text>
<text class="dr" x="1309.18" y="736.47">9.62</text>
<text class="dr" x="1337.55" y="736.47">10.84</text>
<text class="dr" x="1365.91" y="736.47">10.82</text>
<text class="dr" x="1394.27" y="736.47">10.74</text>
<text class="dr" x="1422.64" y="736.47">11.97</text>
<text class="dr" x="1451" y="736.47">10.06</text>
<text class="dr" x="1479.36" y="736.47">13.22</text>
<text class="dr" x="1507.73" y="736.47">10.54</text>
<text class="dr" x="1536.09" y="736.47">14.42</text>
<text class="dr" x="1564.45" y="736.47">10.37</text>
<text class="dr" x="1592.82" y="736.47">15.62</text>
<text class="dr" x="969" y="755.17">860</text>
<text class="dr" x="997.18" y="755.17">12.80</text>
<text class="dr" x="1025.55" y="755.17">4.40</text>
<text class="dr" x="1053.91" y="755.17">12.64</text>
<text class="dr" x="1082.27" y="755.17">5.63</text>
<text class="dr" x="1110.64" y="755.17">12.43</text>
<text class="dr" x="1139" y="755.17">6.88</text>
<text class="dr" x="1167.36" y="755.17">12.23</text>
<text class="dr" x="1195.73" y="755.17">8.03</text>
<text class="dr" x="1224.09" y="755.17">12.05</text>
<text class="dr" x="1252.45" y="755.17">9.32</text>
<text class="dr" x="1280.82" y="755.17">11.84</text>
<text class="dr" x="1309.18" y="755.17">10.47</text>
<text class="dr" x="1337.55" y="755.17">11.73</text>
<text class="dr" x="1365.91" y="755.17">11.73</text>
<text class="dr" x="1394.27" y="755.17">11.63</text>
<text class="dr" x="1422.64" y="755.17">1303</text>
<text class="dr" x="1451" y="755.17">11.56</text>
<text class="dr" x="1479.36" y="755.17">14.23</text>
<text class="dr" x="1507.73" y="755.17">11.42</text>
<text class="dr" x="1536.09" y="755.17">15.53</text>
<text class="dr" x="1564.45" y="755.17">11.25</text>
<text class="dr" x="1592.82" y="755.17">16.82</text>
<text class="dr" x="969" y="773.88">970</text>
<text class="sr" x="947.5" y="773.11">★</text>
<text class="dr" x="997.18" y="773.88">14.70</text>
<text class="dr" x="1025.55" y="773.88">5.58</text>
<text class="dr" x="1053.91" y="773.88">14.52</text>
<text class="dr" x="1082.27" y="773.88">7.02</text>
<text class="dr" x="1110.64" y="773.88">14.32</text>
<text class="dr" x="1139" y="773.88">8.33</text>
<text class="dr" x="1167.36" y="773.88">14.13</text>
<text class="dr" x="1195.73" y="773.88">9.63</text>
<text class="dr" x="1224.09" y="773.88">13.93</text>
<text class="dr" x="1252.45" y="773.88">11.07</text>
<text class="dr" x="1280.82" y="773.88">13.72</text>
<text class="dr" x="1309.18" y="773.88">12.43</text>
<text class="dr" x="1337.55" y="773.88">13.82</text>
<text class="dr" x="1365.91" y="773.88">13.82</text>
<text class="dr" x="1394.27" y="773.88">13.62</text>
<text class="dr" x="1422.64" y="773.88">15.23</text>
<text class="dr" x="1451" y="773.88">13.52</text>
<text class="dr" x="1479.36" y="773.88">16.62</text>
<text class="dr" x="1507.73" y="773.88">13.33</text>
<text class="dr" x="1536.09" y="773.88">18.03</text>
<text class="dr" x="1564.45" y="773.88">13.25</text>
<text class="dr" x="1592.82" y="773.88">19.43</text>
<text class="dr" x="969" y="792.58">1110</text>
<text class="dr" x="997.18" y="792.58">17.08</text>
<text class="dr" x="1025.55" y="792.58">7.00</text>
<text class="dr" x="1053.91" y="792.58">16.92</text>
<text class="dr" x="1082.27" y="792.58">8.62</text>
<text class="dr" x="1110.64" y="792.58">16.73</text>
<text class="dr" x="1139" y="792.58">10.17</text>
<text class="dr" x="1167.36" y="792.58">16.54</text>
<text class="dr" x="1195.73" y="792.58">11.72</text>
<text class="dr" x="1224.09" y="792.58">16.35</text>
<text class="dr" x="1252.45" y="792.58">13.12</text>
<text class="dr" x="1280.82" y="792.58">16.23</text>
<text class="dr" x="1309.18" y="792.58">14.82</text>
<text class="dr" x="1337.55" y="792.58">16.17</text>
<text class="dr" x="1365.91" y="792.58">16.53</text>
<text class="dr" x="1394.27" y="792.58">16.07</text>
<text class="dr" x="1422.64" y="792.58">18.03</text>
<text class="dr" x="1451" y="792.58">15.97</text>
<text class="dr" x="1479.36" y="792.58">19.63</text>
<text class="dr" x="1507.73" y="792.58">15.82</text>
<text class="dr" x="1536.09" y="792.58">21.23</text>
<text class="dr" x="1564.45" y="792.58">15.72</text>
<text class="dr" x="1592.82" y="792.58">22.82</text>
<text class="dr" x="969" y="811.28">1180</text>
<text class="dr" x="997.18" y="811.28">18.25</text>
<text class="dr" x="1025.55" y="811.28">7.80</text>
<text class="dr" x="1053.91" y="811.28">18.13</text>
<text class="dr" x="1082.27" y="811.28">9.43</text>
<text class="dr" x="1110.64" y="811.28">17.94</text>
<text class="dr" x="1139" y="811.28">11.12</text>
<text class="dr" x="1167.36" y="811.28">17.75</text>
<text class="dr" x="1195.73" y="811.28">12.73</text>
<text class="dr" x="1224.09" y="811.28">17.57</text>
<text class="dr" x="1252.45" y="811.28">14.43</text>
<text class="dr" x="1280.82" y="811.28">17.45</text>
<text class="dr" x="1309.18" y="811.28">16.03</text>
<text class="dr" x="1337.55" y="811.28">17.35</text>
<text class="dr" x="1365.91" y="811.28">17.83</text>
<text class="dr" x="1394.27" y="811.28">17.25</text>
<text class="dr" x="1422.64" y="811.28">19.4</text>
<text class="dr" x="1451" y="811.28">17.15</text>
<text class="dr" x="1479.36" y="811.28">21.13</text>
<text class="dr" x="1507.73" y="811.28">17.05</text>
<text class="dr" x="1536.09" y="811.28">22.82</text>
<text class="dr" x="1564.45" y="811.28">16.95</text>
<text class="dr" x="1592.82" y="811.28">24.43</text>
<text class="dr" x="969" y="829.98">1240</text>
<text class="dr" x="997.18" y="829.98">19.27</text>
<text class="dr" x="1025.55" y="829.98">8.45</text>
<text class="dr" x="1053.91" y="829.98">19.12</text>
<text class="dr" x="1082.27" y="829.98">10.21</text>
<text class="dr" x="1110.64" y="829.98">18.93</text>
<text class="dr" x="1139" y="829.98">11.92</text>
<text class="dr" x="1167.36" y="829.98">18.75</text>
<text class="dr" x="1195.73" y="829.98">13.62</text>
<text class="dr" x="1224.09" y="829.98">18.65</text>
<text class="dr" x="1252.45" y="829.98">15.42</text>
<text class="dr" x="1280.82" y="829.98">18.55</text>
<text class="dr" x="1309.18" y="829.98">17.05</text>
<text class="dr" x="1337.55" y="829.98">18.45</text>
<text class="dr" x="1365.91" y="829.98">18.93</text>
<text class="dr" x="1394.27" y="829.98">18.35</text>
<text class="dr" x="1422.64" y="829.98">20.7</text>
<text class="dr" x="1451" y="829.98">18.25</text>
<text class="dr" x="1479.36" y="829.98">22.43</text>
<text class="dr" x="1507.73" y="829.98">18.15</text>
<text class="dr" x="1536.09" y="829.98">24.23</text>
<text class="dr" x="1564.45" y="829.98">18.05</text>
<text class="dr" x="1592.82" y="829.98">25.83</text>
<text class="dr" x="969" y="848.69">1400</text>
<text class="dr" x="997.18" y="848.69">22.00</text>
<text class="dr" x="1025.55" y="848.69">10.20</text>
<text class="dr" x="1053.91" y="848.69">21.85</text>
<text class="dr" x="1082.27" y="848.69">12.12</text>
<text class="dr" x="1110.64" y="848.69">21.72</text>
<text class="dr" x="1139" y="848.69">14.03</text>
<text class="dr" x="1167.36" y="848.69">21.53</text>
<text class="dr" x="1195.73" y="848.69">15.93</text>
<text class="dr" x="1224.09" y="848.69">21.42</text>
<text class="dr" x="1252.45" y="848.69">17.92</text>
<text class="dr" x="1280.82" y="848.69">21.32</text>
<text class="dr" x="1309.18" y="848.69">19.92</text>
<text class="dr" x="1337.55" y="848.69">21.23</text>
<text class="dr" x="1365.91" y="848.69">21.92</text>
<text class="dr" x="1394.27" y="848.69">21.17</text>
<text class="dr" x="1422.64" y="848.69">23.83</text>
<text class="dr" x="1451" y="848.69">21.07</text>
<text class="dr" x="1479.36" y="848.69">25.83</text>
<text class="dr" x="1507.73" y="848.69">20.95</text>
<text class="dr" x="1536.09" y="848.69">27.93</text>
<text class="dr" x="1564.45" y="848.69">20.85</text>
<text class="dr" x="1592.82" y="848.69">29.72</text>
<text class="dr" x="969" y="867.39">1470</text>
<text class="sr" x="947.5" y="866.62">★</text>
<text class="dr" x="997.18" y="867.39">23.93</text>
<text class="dr" x="1025.55" y="867.39">11.65</text>
<text class="dr" x="1053.91" y="867.39">23.04</text>
<text class="dr" x="1082.27" y="867.39">13.38</text>
<text class="dr" x="1110.64" y="867.39">22.87</text>
<text class="dr" x="1139" y="867.39">15.41</text>
<text class="dr" x="1167.36" y="867.39">22.77</text>
<text class="dr" x="1195.73" y="867.39">17.43</text>
<text class="dr" x="1224.09" y="867.39">22.65</text>
<text class="dr" x="1252.45" y="867.39">19.51</text>
<text class="dr" x="1280.82" y="867.39">22.56</text>
<text class="dr" x="1309.18" y="867.39">21.59</text>
<text class="dr" x="1337.55" y="867.39">22.48</text>
<text class="dr" x="1365.91" y="867.39">23.82</text>
<text class="dr" x="1394.27" y="867.39">23.39</text>
<text class="dr" x="1422.64" y="867.39">25.84</text>
<text class="dr" x="1451" y="867.39">22.30</text>
<text class="dr" x="1479.36" y="867.39">27.97</text>
<text class="dr" x="1507.73" y="867.39">22.15</text>
<text class="dr" x="1536.09" y="867.39">30.20</text>
<text class="dr" x="1564.45" y="867.39">22.09</text>
<text class="dr" x="1592.82" y="867.39">32.33</text>
<text class="dr" x="969" y="886.09">1620</text>
<text class="dr" x="997.18" y="886.09">25.42</text>
<text class="dr" x="1025.55" y="886.09">13.40</text>
<text class="dr" x="1053.91" y="886.09">25.32</text>
<text class="dr" x="1082.27" y="886.09">15.62</text>
<text class="dr" x="1110.64" y="886.09">25.13</text>
<text class="dr" x="1139" y="886.09">18.02</text>
<text class="dr" x="1167.36" y="886.09">25.02</text>
<text class="dr" x="1195.73" y="886.09">20.42</text>
<text class="dr" x="1224.09" y="886.09">24.84</text>
<text class="dr" x="1252.45" y="886.09">22.62</text>
<text class="dr" x="1280.82" y="886.09">24.74</text>
<text class="dr" x="1309.18" y="886.09">25.03</text>
<text class="dr" x="1337.55" y="886.09">24.66</text>
<text class="dr" x="1365.91" y="886.09">27.43</text>
<text class="dr" x="1394.27" y="886.09">24.55</text>
<text class="dr" x="1422.64" y="886.09">29.63</text>
<text class="dr" x="1451" y="886.09">24.45</text>
<text class="dr" x="1479.36" y="886.09">32.07</text>
<text class="dr" x="1507.73" y="886.09">24.32</text>
<text class="dr" x="1536.09" y="886.09">34.42</text>
<text class="dr" x="1564.45" y="886.09">24.25</text>
<text class="dr" x="1592.82" y="886.09">36.93</text>
<text class="dr" x="969" y="904.79">1730</text>
<text class="dr" x="997.18" y="904.79">27.15</text>
<text class="dr" x="1025.55" y="904.79">15.04</text>
<text class="dr" x="1053.91" y="904.79">26.94</text>
<text class="dr" x="1082.27" y="904.79">17.63</text>
<text class="dr" x="1110.64" y="904.79">26.73</text>
<text class="dr" x="1139" y="904.79">20.22</text>
<text class="dr" x="1167.36" y="904.79">26.63</text>
<text class="dr" x="1195.73" y="904.79">22.92</text>
<text class="dr" x="1224.09" y="904.79">26.48</text>
<text class="dr" x="1252.45" y="904.79">25.32</text>
<text class="dr" x="1280.82" y="904.79">26.33</text>
<text class="dr" x="1309.18" y="904.79">27.92</text>
<text class="dr" x="1337.55" y="904.79">26.29</text>
<text class="dr" x="1365.91" y="904.79">30.42</text>
<text class="dr" x="1394.27" y="904.79">26.15</text>
<text class="dr" x="1422.64" y="904.79">33.03</text>
<text class="dr" x="1451" y="904.79">26.05</text>
<text class="dr" x="1479.36" y="904.79">35.53</text>
<text class="dr" x="1507.73" y="904.79">25.95</text>
<text class="dr" x="1536.09" y="904.79">38.02</text>
<text class="dr" x="1564.45" y="904.79">25.85</text>
<text class="dr" x="1592.82" y="904.79">40.82</text>
<text class="dr" x="969" y="923.5">1900</text>
<text class="dr" x="997.18" y="923.5">29.61</text>
<text class="dr" x="1025.55" y="923.5">20.57</text>
<text class="dr" x="1053.91" y="923.5">29.48</text>
<text class="dr" x="1082.27" y="923.5">22.53</text>
<text class="dr" x="1110.64" y="923.5">29.35</text>
<text class="dr" x="1139" y="923.5">24.49</text>
<text class="dr" x="1167.36" y="923.5">29.24</text>
<text class="dr" x="1195.73" y="923.5">26.62</text>
<text class="dr" x="1224.09" y="923.5">29.15</text>
<text class="dr" x="1252.45" y="923.5">28.94</text>
<text class="dr" x="1280.82" y="923.5">29.03</text>
<text class="dr" x="1309.18" y="923.5">31.76</text>
<text class="dr" x="1337.55" y="923.5">28.96</text>
<text class="dr" x="1365.91" y="923.5">34.54</text>
<text class="dr" x="1394.27" y="923.5">28.84</text>
<text class="dr" x="1422.64" y="923.5">37.48</text>
<text class="dr" x="1451" y="923.5">28.73</text>
<text class="dr" x="1479.36" y="923.5">40.32</text>
<text class="dr" x="1507.73" y="923.5">28.63</text>
<text class="dr" x="1536.09" y="923.5">42.66</text>
<text class="dr" x="1564.45" y="923.5">28.54</text>
<text class="dr" x="1592.82" y="923.5">45.14</text>
<text class="mr" x="912.7" y="1006.03" textLength="15.7" lengthAdjust="spacingAndGlyphs">JGR</text>
<text class="mr" x="912.7" y="1019.53" textLength="15.7" lengthAdjust="spacingAndGlyphs">175</text>
<text class="mr" x="940.9" y="1004.88" textLength="21.2" lengthAdjust="spacingAndGlyphs">150A</text>
<text class="dr" x="969" y="942.2">970</text>
<text class="sr" x="947.5" y="941.43">★</text>
<text class="dr" x="997.18" y="942.2">21.87</text>
<text class="dr" x="1025.55" y="942.2">7.20</text>
<text class="dr" x="1053.91" y="942.2">22.20</text>
<text class="dr" x="1082.27" y="942.2">10.19</text>
<text class="dr" x="1110.64" y="942.2">22.13</text>
<text class="dr" x="1139" y="942.2">11.25</text>
<text class="dr" x="1167.36" y="942.2">21.63</text>
<text class="dr" x="1195.73" y="942.2">13.35</text>
<text class="dr" x="1224.09" y="942.2">21.05</text>
<text class="dr" x="1252.45" y="942.2">15.46</text>
<text class="dr" x="1280.82" y="942.2">20.85</text>
<text class="dr" x="1309.18" y="942.2">17.57</text>
<text class="dr" x="1337.55" y="942.2">20.53</text>
<text class="dr" x="1365.91" y="942.2">19.65</text>
<text class="dr" x="1394.27" y="942.2">20.21</text>
<text class="dr" x="1422.64" y="942.2">21.75</text>
<text class="dr" x="1451" y="942.2">20.12</text>
<text class="dr" x="1479.36" y="942.2">23.87</text>
<text class="dr" x="1507.73" y="942.2">19.83</text>
<text class="dr" x="1536.09" y="942.2">26.03</text>
<text class="dr" x="1564.45" y="942.2">19.65</text>
<text class="dr" x="1592.82" y="942.2">28.14</text>
<text class="dr" x="969" y="960.9">1110</text>
<text class="dr" x="997.18" y="960.9">25.43</text>
<text class="dr" x="1025.55" y="960.9">8.91</text>
<text class="dr" x="1053.91" y="960.9">26.54</text>
<text class="dr" x="1082.27" y="960.9">11.94</text>
<text class="dr" x="1110.64" y="960.9">26.33</text>
<text class="dr" x="1139" y="960.9">13.14</text>
<text class="dr" x="1167.36" y="960.9">25.83</text>
<text class="dr" x="1195.73" y="960.9">15.53</text>
<text class="dr" x="1224.09" y="960.9">26.04</text>
<text class="dr" x="1252.45" y="960.9">17.93</text>
<text class="dr" x="1280.82" y="960.9">25.24</text>
<text class="dr" x="1309.18" y="960.9">20.33</text>
<text class="dr" x="1337.55" y="960.9">24.83</text>
<text class="dr" x="1365.91" y="960.9">22.73</text>
<text class="dr" x="1394.27" y="960.9">.24.55</text>
<text class="dr" x="1422.64" y="960.9">25.10</text>
<text class="dr" x="1451" y="960.9">24.23</text>
<text class="dr" x="1479.36" y="960.9">27.53</text>
<text class="dr" x="1507.73" y="960.9">24.07</text>
<text class="dr" x="1536.09" y="960.9">29.93</text>
<text class="dr" x="1564.45" y="960.9">23.95</text>
<text class="dr" x="1592.82" y="960.9">32.33</text>
<text class="dr" x="969" y="979.6">1180</text>
<text class="dr" x="997.18" y="979.6">27.20</text>
<text class="dr" x="1025.55" y="979.6">9.87</text>
<text class="dr" x="1053.91" y="979.6">28.50</text>
<text class="dr" x="1082.27" y="979.6">12.54</text>
<text class="dr" x="1110.64" y="979.6">28.35</text>
<text class="dr" x="1139" y="979.6">13.84</text>
<text class="dr" x="1167.36" y="979.6">27.96</text>
<text class="dr" x="1195.73" y="979.6">16.35</text>
<text class="dr" x="1224.09" y="979.6">27.55</text>
<text class="dr" x="1252.45" y="979.6">18.95</text>
<text class="dr" x="1280.82" y="979.6">27.17</text>
<text class="dr" x="1309.18" y="979.6">21.47</text>
<text class="dr" x="1337.55" y="979.6">26.83</text>
<text class="dr" x="1365.91" y="979.6">24.07</text>
<text class="dr" x="1394.27" y="979.6">26.57</text>
<text class="dr" x="1422.64" y="979.6">26.63</text>
<text class="dr" x="1451" y="979.6">26.34</text>
<text class="dr" x="1479.36" y="979.6">29.15</text>
<text class="dr" x="1507.73" y="979.6">26.15</text>
<text class="dr" x="1536.09" y="979.6">31.74</text>
<text class="dr" x="1564.45" y="979.6">25.95</text>
<text class="dr" x="1592.82" y="979.6">34.26</text>
<text class="dr" x="969" y="998.31">1240</text>
<text class="dr" x="997.18" y="998.31">28.73</text>
<text class="dr" x="1025.55" y="998.31">10.65</text>
<text class="dr" x="1053.91" y="998.31">30.10</text>
<text class="dr" x="1082.27" y="998.31">13.43</text>
<text class="dr" x="1110.64" y="998.31">29.94</text>
<text class="dr" x="1139" y="998.31">14.75</text>
<text class="dr" x="1167.36" y="998.31">29.53</text>
<text class="dr" x="1195.73" y="998.31">17.47</text>
<text class="dr" x="1224.09" y="998.31">29.15</text>
<text class="dr" x="1252.45" y="998.31">20.16</text>
<text class="dr" x="1280.82" y="998.31">28.85</text>
<text class="dr" x="1309.18" y="998.31">22.85</text>
<text class="dr" x="1337.55" y="998.31">28.55</text>
<text class="dr" x="1365.91" y="998.31">25.54</text>
<text class="dr" x="1394.27" y="998.31">28.27</text>
<text class="dr" x="1422.64" y="998.31">28.24</text>
<text class="dr" x="1451" y="998.31">28.05</text>
<text class="dr" x="1479.36" y="998.31">30.93</text>
<text class="dr" x="1507.73" y="998.31">27.84</text>
<text class="dr" x="1536.09" y="998.31">33.56</text>
<text class="dr" x="1564.45" y="998.31">27.63</text>
<text class="dr" x="1592.82" y="998.31">36.26</text>
<text class="dr" x="969" y="1017.01">1400</text>
<text class="dr" x="997.18" y="1017.01">32.81</text>
<text class="dr" x="1025.55" y="1017.01">12.75</text>
<text class="dr" x="1053.91" y="1017.01">33.93</text>
<text class="dr" x="1082.27" y="1017.01">16.70</text>
<text class="dr" x="1110.64" y="1017.01">33.65</text>
<text class="dr" x="1139" y="1017.01">18.54</text>
<text class="dr" x="1167.36" y="1017.01">33.35</text>
<text class="dr" x="1195.73" y="1017.01">21.65</text>
<text class="dr" x="1224.09" y="1017.01">33.26</text>
<text class="dr" x="1252.45" y="1017.01">25.54</text>
<text class="dr" x="1280.82" y="1017.01">32.83</text>
<text class="dr" x="1309.18" y="1017.01">27.57</text>
<text class="dr" x="1337.55" y="1017.01">32.55</text>
<text class="dr" x="1365.91" y="1017.01">30.64</text>
<text class="dr" x="1394.27" y="1017.01">32.33</text>
<text class="dr" x="1422.64" y="1017.01">33.63</text>
<text class="dr" x="1451" y="1017.01">32.03</text>
<text class="dr" x="1479.36" y="1017.01">36.65</text>
<text class="dr" x="1507.73" y="1017.01">31.82</text>
<text class="dr" x="1536.09" y="1017.01">39.71</text>
<text class="dr" x="1564.45" y="1017.01">31.62</text>
<text class="dr" x="1592.82" y="1017.01">42.76</text>
<text class="dr" x="969" y="1035.71">1460</text>
<text class="sr" x="947.5" y="1034.94">★</text>
<text class="dr" x="997.18" y="1035.71">35.76</text>
<text class="dr" x="1025.55" y="1035.71">14.47</text>
<text class="dr" x="1053.91" y="1035.71">25.24</text>
<text class="dr" x="1082.27" y="1035.71">17.25</text>
<text class="dr" x="1110.64" y="1035.71">35.04</text>
<text class="dr" x="1139" y="1035.71">19.09</text>
<text class="dr" x="1167.36" y="1035.71">34.69</text>
<text class="dr" x="1195.73" y="1035.71">22.25</text>
<text class="dr" x="1224.09" y="1035.71">34.50</text>
<text class="dr" x="1252.45" y="1035.71">25.39</text>
<text class="dr" x="1280.82" y="1035.71">34.09</text>
<text class="dr" x="1309.18" y="1035.71">28.55</text>
<text class="dr" x="1337.55" y="1035.71">33.86</text>
<text class="dr" x="1365.91" y="1035.71">31.74</text>
<text class="dr" x="1394.27" y="1035.71">33.64</text>
<text class="dr" x="1422.64" y="1035.71">34.85</text>
<text class="dr" x="1451" y="1035.71">33.34</text>
<text class="dr" x="1479.36" y="1035.71">38.01</text>
<text class="dr" x="1507.73" y="1035.71">33.18</text>
<text class="dr" x="1536.09" y="1035.71">41.68</text>
<text class="dr" x="1564.45" y="1035.71">32.94</text>
<text class="dr" x="1592.82" y="1035.71">44.36</text>
<text class="dr" x="969" y="1054.41">1520</text>
<text class="dr" x="997.18" y="1054.41">36.65</text>
<text class="dr" x="1025.55" y="1054.41">15.96</text>
<text class="dr" x="1053.91" y="1054.41">36.54</text>
<text class="dr" x="1082.27" y="1054.41">17.80</text>
<text class="dr" x="1110.64" y="1054.41">36.43</text>
<text class="dr" x="1139" y="1054.41">19.64</text>
<text class="dr" x="1167.36" y="1054.41">36.03</text>
<text class="dr" x="1195.73" y="1054.41">22.94</text>
<text class="dr" x="1224.09" y="1054.41">35.73</text>
<text class="dr" x="1252.45" y="1054.41">26.23</text>
<text class="dr" x="1280.82" y="1054.41">35.35</text>
<text class="dr" x="1309.18" y="1054.41">29.52</text>
<text class="dr" x="1337.55" y="1054.41">35.17</text>
<text class="dr" x="1365.91" y="1054.41">32.83</text>
<text class="dr" x="1394.27" y="1054.41">34.95</text>
<text class="dr" x="1422.64" y="1054.41">36.07</text>
<text class="dr" x="1451" y="1054.41">34.65</text>
<text class="dr" x="1479.36" y="1054.41">39.37</text>
<text class="dr" x="1507.73" y="1054.41">34.56</text>
<text class="dr" x="1536.09" y="1054.41">43.65</text>
<text class="dr" x="1564.45" y="1054.41">34.25</text>
<text class="dr" x="1592.82" y="1054.41">45.95</text>
<text class="dr" x="969" y="1073.11">1620</text>
<text class="dr" x="997.18" y="1073.11">38.68</text>
<text class="dr" x="1025.55" y="1073.11">19.39</text>
<text class="dr" x="1053.91" y="1073.11">38.52</text>
<text class="dr" x="1082.27" y="1073.11">21.13</text>
<text class="dr" x="1110.64" y="1073.11">38.36</text>
<text class="dr" x="1139" y="1073.11">22.87</text>
<text class="dr" x="1167.36" y="1073.11">38.03</text>
<text class="dr" x="1195.73" y="1073.11">26.43</text>
<text class="dr" x="1224.09" y="1073.11">37.84</text>
<text class="dr" x="1252.45" y="1073.11">29.94</text>
<text class="dr" x="1280.82" y="1073.11">37.43</text>
<text class="dr" x="1309.18" y="1073.11">33.42</text>
<text class="dr" x="1337.55" y="1073.11">37.15</text>
<text class="dr" x="1365.91" y="1073.11">36.96</text>
<text class="dr" x="1394.27" y="1073.11">36.96</text>
<text class="dr" x="1422.64" y="1073.11">40.43</text>
<text class="dr" x="1451" y="1073.11">36.65</text>
<text class="dr" x="1479.36" y="1073.11">43.95</text>
<text class="dr" x="1507.73" y="1073.11">36.55</text>
<text class="dr" x="1536.09" y="1073.11">47.45</text>
<text class="dr" x="1564.45" y="1073.11">36.35</text>
<text class="dr" x="1592.82" y="1073.11">50.97</text>
</svg>

<div class="abs note" style="left:63.7px;top:1050.3px">注：1.所选电机一般为<b>4</b>级电机，另视转速调整级数。2.<u>带</u> <span class="s">★</span> 号的也可用于直联传动。</div>
<div class="abs note" style="left:906.9px;top:1082.6px;letter-spacing:1.22px">注：1.所选电机一般为<b>4</b>级电机，另视转速调整级数。2.<u>带</u> <span class="s">★</span> 号的也可用于直联传动。</div>

<div class="abs pill" style="left:-1px;top:1081.2px;width:70px"></div>
<div class="abs pn" style="left:44.3px;top:1086.7px">7</div>
<div class="abs pill" style="left:1608px;top:1081.2px;width:75px"></div>
<div class="abs pn" style="left:1621.8px;top:1086.9px">8</div>
</body>
</html>
